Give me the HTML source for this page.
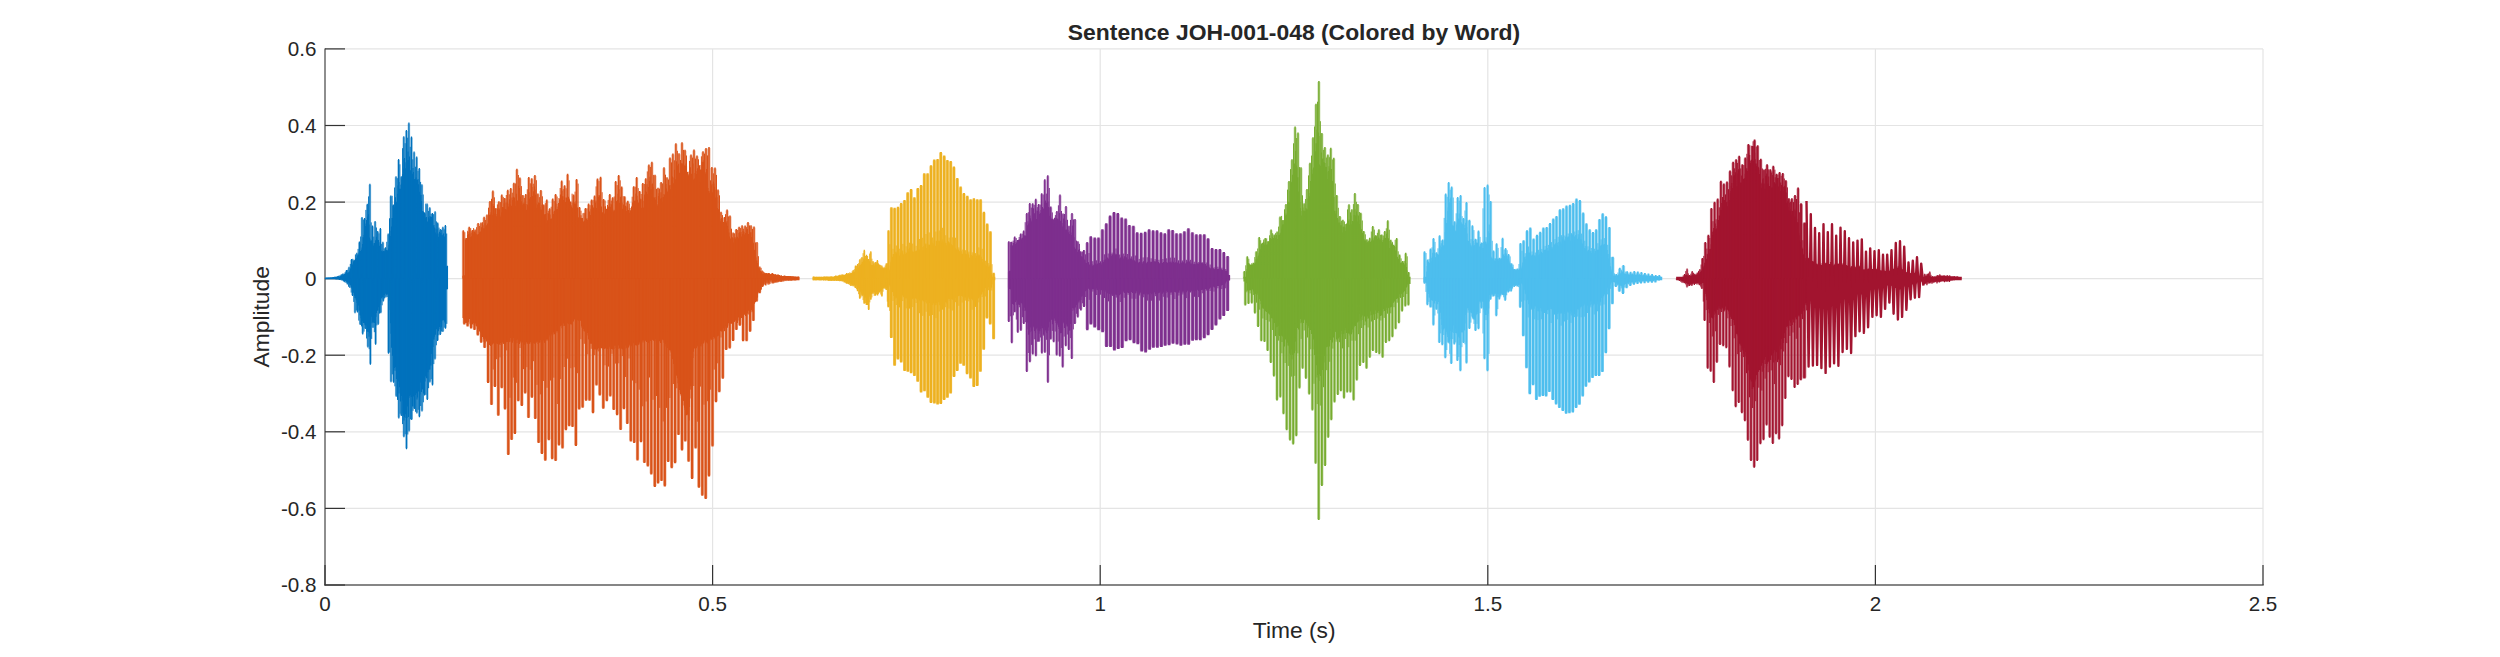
<!DOCTYPE html>
<html><head><meta charset="utf-8"><title>Sentence JOH-001-048 (Colored by Word)</title>
<style>
html,body{margin:0;padding:0;background:#fff;}
body{width:2500px;height:657px;overflow:hidden;}
svg{display:block;}
text{font-family:"Liberation Sans",Arial,Helvetica,sans-serif;fill:#262626;}
.tk{font-size:20.6px;}
.lb{font-size:22.8px;}
.ti{font-size:22.9px;font-weight:bold;}
</style></head><body>
<svg width="2500" height="657" viewBox="0 0 2500 657">
<rect width="2500" height="657" fill="#fff"/>
<g id="grid">
<line x1="712.6" y1="48.9" x2="712.6" y2="585" stroke="#e4e4e4" stroke-width="1.2"/>
<line x1="1100.2" y1="48.9" x2="1100.2" y2="585" stroke="#e4e4e4" stroke-width="1.2"/>
<line x1="1487.8" y1="48.9" x2="1487.8" y2="585" stroke="#e4e4e4" stroke-width="1.2"/>
<line x1="1875.4" y1="48.9" x2="1875.4" y2="585" stroke="#e4e4e4" stroke-width="1.2"/>
<line x1="2263" y1="48.9" x2="2263" y2="585" stroke="#e4e4e4" stroke-width="1.2"/>
<line x1="325" y1="48.9" x2="2263" y2="48.9" stroke="#e4e4e4" stroke-width="1.2"/>
<line x1="325" y1="125.5" x2="2263" y2="125.5" stroke="#e4e4e4" stroke-width="1.2"/>
<line x1="325" y1="202.1" x2="2263" y2="202.1" stroke="#e4e4e4" stroke-width="1.2"/>
<line x1="325" y1="278.7" x2="2263" y2="278.7" stroke="#e4e4e4" stroke-width="1.2"/>
<line x1="325" y1="355.2" x2="2263" y2="355.2" stroke="#e4e4e4" stroke-width="1.2"/>
<line x1="325" y1="431.8" x2="2263" y2="431.8" stroke="#e4e4e4" stroke-width="1.2"/>
<line x1="325" y1="508.4" x2="2263" y2="508.4" stroke="#e4e4e4" stroke-width="1.2"/>
</g>
<g id="axes">
<line x1="325" y1="48.4" x2="325" y2="585.7" stroke="#5e5e5e" stroke-width="1.4"/>
<line x1="324.3" y1="585" x2="2263.7" y2="585" stroke="#5e5e5e" stroke-width="1.4"/>
<line x1="325" y1="585" x2="325" y2="565" stroke="#333" stroke-width="1.2"/>
<line x1="712.6" y1="585" x2="712.6" y2="565" stroke="#333" stroke-width="1.2"/>
<line x1="1100.2" y1="585" x2="1100.2" y2="565" stroke="#333" stroke-width="1.2"/>
<line x1="1487.8" y1="585" x2="1487.8" y2="565" stroke="#333" stroke-width="1.2"/>
<line x1="1875.4" y1="585" x2="1875.4" y2="565" stroke="#333" stroke-width="1.2"/>
<line x1="2263" y1="585" x2="2263" y2="565" stroke="#333" stroke-width="1.2"/>
<line x1="325" y1="48.9" x2="345" y2="48.9" stroke="#333" stroke-width="1.2"/>
<line x1="325" y1="125.5" x2="345" y2="125.5" stroke="#333" stroke-width="1.2"/>
<line x1="325" y1="202.1" x2="345" y2="202.1" stroke="#333" stroke-width="1.2"/>
<line x1="325" y1="278.7" x2="345" y2="278.7" stroke="#333" stroke-width="1.2"/>
<line x1="325" y1="355.2" x2="345" y2="355.2" stroke="#333" stroke-width="1.2"/>
<line x1="325" y1="431.8" x2="345" y2="431.8" stroke="#333" stroke-width="1.2"/>
<line x1="325" y1="508.4" x2="345" y2="508.4" stroke="#333" stroke-width="1.2"/>
<line x1="325" y1="585" x2="345" y2="585" stroke="#333" stroke-width="1.2"/>
</g>
<g id="wave" stroke-linecap="butt">
<path d="M325.5 277.7V279.3M326 277.7V279.3M326.5 277.7V279.3M327 277.7V279.3M327.5 277.7V279.3M328 277.7V279.3M328.5 277.7V279.3M329 277.7V279.3M329.5 277.7V279.3M330 277.7V279.3M330.5 277.6V279.3M331 277.6V279.3M331.5 277.5V279.3M332 277.4V279.3M332.5 277.4V279.3M333 277.4V279.3M333.5 277.4V279.3M334 277.2V279.3M334.5 277.2V279.3M335 277V279.3M335.5 276.9V279.3M336 276.8V279.3M336.5 276.8V279.3M337 276.8V279.3M337.5 276.6V279.3M338 276.5V279.3M338.5 276.6V279.3M339 276.5V279.4M339.5 276.5V279.3M340 276.4V279.4M340.5 276.2V279.5M341 276.1V279.5M341.5 275.8V279.6M342 275.4V279.7M342.5 275.7V279.9M343 275.2V280M343.5 275V280.3M344 274.6V280.7M344.5 273.9V280.9M345 273.7V281.3M345.5 273.4V281.3M346 273.1V281.3M346.5 273.3V281.8M347 273.1V282.2M347.5 273.1V282M348 272.6V282.6M348.5 272.5V282.6M349 272V282.7M349.5 271.5V283.4M350 270.3V284.7M350.5 268.6V285.1M351 268.6V285.8M351.5 267.7V287.5M352 264.8V288.7M352.5 265.9V289.1M353 263.6V290.9M353.5 261.6V292.7M354 260.5V292M354.5 261.7V295.9M355 260.3V297.9M355.5 258.9V297M356 259.9V299.6M356.5 257.7V300.4M357 259.8V303M357.5 255.5V306.5M358 254.5V303.3M358.5 255.4V305.5M359 252.5V310.6M359.5 254V308.2M360 251.1V315.3M360.5 252.8V315.6M361 251.1V318.3M361.5 249.8V314.1M362 247.5V318.6M362.5 244V321.3M363 237.3V320M363.5 238.4V323.1M364 235.1V318.7M364.5 232.7V323.2M365 223.6V325.3M365.5 228.7V319.8M366 226V325.4M366.5 220.1V323.2M367 225.3V331.6M367.5 216.4V325.5M368 222.5V331.9M368.5 214.3V332M369 224.5V336.8M369.5 237.6V333.3M370 239.3V330.8M370.5 243V318.9M371 240.7V315.9M371.5 244.6V316.8M372 240V323.2M372.5 244.9V321.1M373 243.3V322.3M373.5 246.5V319.5M374 245.5V323M374.5 243.1V323.1M375 245.9V319M375.5 240.2V318.3M376 241V316.8M376.5 236.7V313M377 239.2V310.7M377.5 240.1V310.7M378 240.1V310.6M378.5 240.1V305.5M379 242.3V307.3M379.5 246V304.3M380 245.8V304.8M380.5 249.1V302.5M381 251V298.2M381.5 251V297.1M382 250.6V298.5M382.5 251.5V296.8M383 253V297.1M383.5 251V294.3M384 251.2V295.1M384.5 254.7V295M385 250.6V293.2M385.5 252.8V293.5M386 250.1V294.1M386.5 249.9V294.6M387 253.5V295.1M387.5 250.3V292.3M388 252V293.9M388.5 248.6V293.5M389 244.8V292.9M389.5 240.6V300.5M390 236.6V309.9M390.5 236.1V323.2M391 230.7V333.8M391.5 226.5V347.7M392 218V342.4M392.5 217.9V355.7M393 205.7V349.7M393.5 205.2V367.2M394 208.7V365.7M394.5 207.4V367.9M395 202.2V370.7M395.5 197.3V363.6M396 201.4V367.2M396.5 203.4V379.1M397 202.2V369M397.5 193.8V376.4M398 185.4V374.5M398.5 184.7V381.5M399 182.1V393.6M399.5 189.1V387.3M400 188.7V383.2M400.5 192.9V401.4M401 184.8V392.7M401.5 183.5V395.9M402 179.1V390.3M402.5 174.3V400.4M403 176.6V413.6M403.5 168.4V415.6M404 159.2V420.5M404.5 157.9V417.2M405 162.2V410.2M405.5 168.2V414.2M406 168.7V418.1M406.5 164.2V413.1M407 160.2V418M407.5 168.1V402.4M408 151.6V406.4M408.5 173.6V417.1M409 160V398.1M409.5 156.4V396.3M410 170.4V395.1M410.5 172.1V388.5M411 170V396.7M411.5 165.4V397M412 173.8V386.7M412.5 185.3V406.4M413 167.9V406.6M413.5 171.9V392.1M414 179.7V396.4M414.5 179.3V408.6M415 179V385.1M415.5 188.3V394.9M416 177.5V386.6M416.5 182.9V393.3M417 179.9V399.5M417.5 183.7V397.4M418 179V390.7M418.5 184.3V391.5M419 194.6V388.8M419.5 191.7V397.4M420 201.7V394.6M420.5 194.7V382.5M421 194.9V382M421.5 201.1V392M422 212.9V389.7M422.5 210.9V389M423 215.5V381.3M423.5 211.5V393.6M424 211.9V383.8M424.5 212.8V381.8M425 213.3V381.4M425.5 217.6V376.5M426 220.6V374M426.5 217.1V378.1M427 222.8V378.5M427.5 221.6V365.1M428 224.1V372.2M428.5 217.3V369.4M429 222.1V369.8M429.5 218.5V369.4M430 216V369.4M430.5 217.1V360.1M431 226.8V365.5M431.5 216.7V353.3M432 220.8V354.1M432.5 218V355.9M433 225.4V346.9M433.5 228.6V338.8M434 225V339.4M434.5 227.5V336.8M435 228.6V327.8M435.5 232.4V334.7M436 234.2V325.6M436.5 236.4V329.2M437 228.9V326.2M437.5 237.5V326.3M438 233.5V329.2M438.5 236.7V331.3M439 237.5V326.9M439.5 231.8V323.3M440 234.9V329.3M440.5 233V321.7M441 233V321.7M441.5 238.4V327.3M442 235.3V320.4M442.5 235.7V319.1M443 234.8V320.5M443.5 233.4V318.2M444 239.2V320M444.5 236.6V321.4M445 240.5V322.7M445.5 266.9V289.2M446 266.5V289.2M446.5 267.6V289.5M447 266.2V289.5M447.5 265.7V289" stroke="#0072BD" stroke-width="1.1" fill="none"/><path d="M325.8 279V278.5M328.4 278.6V278.5M331 278.3V278.5M333.5 278.1V278.5M336.1 277.8V278.5M338.7 276.7V278.5M341.3 275.2V278.5M343.9 274.6V278.5M346.4 271.1V278.5M349 267.8V278.5M351.5 260V278.5M354.1 260.7V278.5M356.8 253.7V278.5M359.4 242.5V278.5M362 218.1V278.5M364.6 218.9V278.5M367.3 204.7V278.5M369.9 184.7V278.5M372.5 226.5V278.5M375.1 222.1V278.5M377.7 232.1V278.5M380.4 229V278.5M382.9 242.7V278.5M385.5 248.3V278.5M388.2 234.5V278.5M390.8 196.6V278.5M393.3 205.6V278.5M396 177.2V278.5M398.6 160.1V278.5M401.3 177.2V278.5M403.8 137.2V278.5M406.4 131V278.5M408.9 123.4V278.5M411.5 137.6V278.5M414.1 152.4V278.5M416.7 157.6V278.5M419.3 169.1V278.5M421.9 185.2V278.5M424.5 214.2V278.5M427.1 204.5V278.5M429.8 208.3V278.5M432.4 214V278.5M435.1 212.2V278.5M437.7 223.4V278.5M440.3 230V278.5M442.9 227.8V278.5M445.4 226.1V278.5M326.6 278.5V277M329.1 278.5V277.5M331.7 278.5V277.7M334.3 278.5V278M336.8 278.5V278.4M339.4 278.5V279M342.1 278.5V279.8M344.7 278.5V281.3M347.3 278.5V283.4M349.9 278.5V287M352.5 278.5V294.9M355 278.5V312.2M357.5 278.5V311.4M360.2 278.5V324M362.7 278.5V333.5M365.3 278.5V328.1M367.9 278.5V346.6M370.4 278.5V363.7M373 278.5V327M375.6 278.5V343.7M378.2 278.5V323.8M380.8 278.5V312.2M383.3 278.5V300.6M385.9 278.5V296.5M388.5 278.5V352.7M391 278.5V381.2M393.6 278.5V381.8M396.2 278.5V395.8M398.8 278.5V417.4M401.3 278.5V415.1M403.9 278.5V436.3M406.5 278.5V448.3M409.1 278.5V430.5M411.7 278.5V419.1M414.3 278.5V408.1M416.9 278.5V412.4M419.4 278.5V416.2M422 278.5V410.5M424.6 278.5V394.6M427.3 278.5V398.9M429.9 278.5V381.4M432.5 278.5V384.4M435 278.5V358.4M437.6 278.5V339.9M440.3 278.5V333.9M442.9 278.5V331.1M445.5 278.5V327.8" stroke="#0072BD" stroke-width="2.5" stroke-opacity="0.45" fill="none"/><path d="M325.8 278V278.5M328.4 277.6V278.5M331 277.3V278.5M333.5 277.1V278.5M336.1 276.8V278.5M338.7 275.7V278.5M341.3 274.2V278.5M343.9 273.6V278.5M346.4 270.1V278.5M349 266.8V278.5M351.5 259V278.5M354.1 259.7V278.5M356.8 252.7V278.5M359.4 241.5V278.5M362 217.1V278.5M364.6 217.9V278.5M367.3 203.7V278.5M369.9 183.7V278.5M372.5 225.5V278.5M375.1 221.1V278.5M377.7 231.1V278.5M380.4 228V278.5M382.9 241.7V278.5M385.5 247.3V278.5M388.2 233.5V278.5M390.8 195.6V278.5M393.3 204.6V278.5M396 176.2V278.5M398.6 159.1V278.5M401.3 176.2V278.5M403.8 136.2V278.5M406.4 130V278.5M408.9 122.4V278.5M411.5 136.6V278.5M414.1 151.4V278.5M416.7 156.6V278.5M419.3 168.1V278.5M421.9 184.2V278.5M424.5 213.2V278.5M427.1 203.5V278.5M429.8 207.3V278.5M432.4 213V278.5M435.1 211.2V278.5M437.7 222.4V278.5M440.3 229V278.5M442.9 226.8V278.5M445.4 225.1V278.5M326.6 278.5V278M329.1 278.5V278.5M331.7 278.5V278.7M334.3 278.5V279M336.8 278.5V279.4M339.4 278.5V280M342.1 278.5V280.8M344.7 278.5V282.3M347.3 278.5V284.4M349.9 278.5V288M352.5 278.5V295.9M355 278.5V313.2M357.5 278.5V312.4M360.2 278.5V325M362.7 278.5V334.5M365.3 278.5V329.1M367.9 278.5V347.6M370.4 278.5V364.7M373 278.5V328M375.6 278.5V344.7M378.2 278.5V324.8M380.8 278.5V313.2M383.3 278.5V301.6M385.9 278.5V297.5M388.5 278.5V353.7M391 278.5V382.2M393.6 278.5V382.8M396.2 278.5V396.8M398.8 278.5V418.4M401.3 278.5V416.1M403.9 278.5V437.3M406.5 278.5V449.3M409.1 278.5V431.5M411.7 278.5V420.1M414.3 278.5V409.1M416.9 278.5V413.4M419.4 278.5V417.2M422 278.5V411.5M424.6 278.5V395.6M427.3 278.5V399.9M429.9 278.5V382.4M432.5 278.5V385.4M435 278.5V359.4M437.6 278.5V340.9M440.3 278.5V334.9M442.9 278.5V332.1M445.5 278.5V328.8" stroke="#0072BD" stroke-width="1.2" fill="none"/><path d="M327.1 277.8V278.5M329.7 277.4V278.5M332.3 277V278.5M334.8 276.6V278.5M337.4 276.2V278.5M340 275.2V278.5M342.6 273.6V278.5M345.2 272V278.5M347.7 269.8V278.5M350.3 263.9V278.5M352.8 258.8V278.5M355.4 254.5V278.5M358.1 248.9V278.5M360.7 236.5V278.5M363.3 219.7V278.5M365.9 209.9V278.5M368.6 196.4V278.5M371.2 222.4V278.5M373.8 236.6V278.5M376.4 227.5V278.5M379 233.4V278.5M381.7 244V278.5M384.2 248.4V278.5M386.8 241.8V278.5M389.5 218.3V278.5M392.1 195.8V278.5M394.6 187.5V278.5M397.3 178.2V278.5M399.9 164.3V278.5M402.6 148.2V278.5M405.1 143.2V278.5M407.7 137.7V278.5M410.2 146.8V278.5M412.8 159.3V278.5M415.4 166.7V278.5M418 170.8V278.5M420.6 181.9V278.5M423.2 194.5V278.5M425.8 203.6V278.5M428.4 210.9V278.5M431.1 213.7V278.5M433.7 214.2V278.5M436.4 221.4V278.5M439 227.6V278.5M441.6 229.7V278.5M444.2 229.3V278.5M446.7 233.5V278.5M327.9 278.5V278.3M330.4 278.5V278.6M333 278.5V279M335.6 278.5V279.3M338.1 278.5V279.6M340.7 278.5V280.1M343.4 278.5V281.5M346 278.5V283M348.6 278.5V286.7M351.2 278.5V292.6M353.8 278.5V301.9M356.3 278.5V310.4M358.8 278.5V320.6M361.5 278.5V326.4M364 278.5V331.6M366.6 278.5V338.5M369.2 278.5V349.2M371.7 278.5V338.9M374.3 278.5V332.2M376.9 278.5V325.4M379.5 278.5V313.6M382.1 278.5V305.3M384.6 278.5V298.4M387.2 278.5V297M389.8 278.5V352.5M392.3 278.5V374.4M394.9 278.5V386.3M397.5 278.5V399.9M400.1 278.5V413.7M402.6 278.5V424.1M405.2 278.5V434.3M407.8 278.5V434.5M410.4 278.5V419.4M413 278.5V410.8M415.6 278.5V411.8M418.2 278.5V409.8M420.7 278.5V406M423.3 278.5V402.3M425.9 278.5V394.9M428.6 278.5V388.2M431.2 278.5V379.2M433.8 278.5V364.1M436.3 278.5V345.3M438.9 278.5V335.3M441.6 278.5V331.6M444.2 278.5V327.6M446.8 278.5V323.9" stroke="#0072BD" stroke-width="1.0" fill="none"/>
<path d="M463 275.7V318M463.5 275.7V318.3M464 275.6V318.8M464.5 275.3V317.5M465 275.5V322.7M465.5 240V318.9M466 238.4V323M466.5 238.5V321.5M467 239.2V322.8M467.5 235V323.3M468 232V322.2M468.5 237.5V321.8M469 233.9V319M469.5 237.3V319M470 233.4V323.8M470.5 238.9V324.7M471 237V319.7M471.5 236.2V322.2M472 233V324.1M472.5 230.1V323.8M473 233.8V324.8M473.5 237.8V320.5M474 231.6V323.1M474.5 236.7V323.4M475 231.8V322.1M475.5 233.3V323.6M476 235.2V325.8M476.5 234.4V326.2M477 233.9V326.5M477.5 235.1V327M478 236.4V329M478.5 234V326M479 235.3V329M479.5 232.2V331.4M480 234.9V329.7M480.5 231.5V332.3M481 235.2V333M481.5 227.2V336.7M482 233.1V335.3M482.5 230.7V336.9M483 225.2V335.7M483.5 228.2V338.8M484 228.3V341.8M484.5 233.1V337.4M485 223.2V343.2M485.5 226.5V338M486 227V338.7M486.5 225.2V341.6M487 229.8V341M487.5 223.6V342.5M488 225.2V343.2M488.5 218.7V344.6M489 223V345M489.5 214.7V344.9M490 222.6V341M490.5 214.5V346M491 212.2V342.4M491.5 212.8V342.6M492 215.8V343M492.5 214.9V344.6M493 204V342.9M493.5 215.3V343.5M494 206V341.7M494.5 216.1V341.6M495 213.6V341.4M495.5 208.9V343.5M496 218.8V340.8M496.5 216.3V343.1M497 214V344.1M497.5 208.8V341M498 213.5V344.1M498.5 210.1V345.1M499 208.3V341.9M499.5 209.6V343.9M500 216.7V345.1M500.5 217.6V343.1M501 215.5V340.5M501.5 213V345M502 212.1V342.5M502.5 206.9V341.9M503 211.3V342.5M503.5 207.2V343.4M504 203.3V340.8M504.5 214.1V343.9M505 209.1V340.7M505.5 209.9V342.3M506 202.5V342.3M506.5 210.3V338.8M507 209.4V342.1M507.5 202.6V341.9M508 206.6V342.1M508.5 206.9V338.6M509 203.4V342.2M509.5 199.2V339.7M510 206.1V341.8M510.5 204.6V337.7M511 205.8V337.9M511.5 209V341.6M512 197.5V338M512.5 200.1V342.8M513 203.5V340.7M513.5 196.8V338.1M514 201V337.7M514.5 197.4V343.4M515 206.3V342.1M515.5 205.8V341M516 201.4V343.3M516.5 193.7V340M517 203.4V339.3M517.5 200.8V339.6M518 200.2V342.9M518.5 185.8V343M519 195.1V342.3M519.5 188V343.9M520 194V342.7M520.5 196.5V341.4M521 203.6V339.8M521.5 201.3V339.3M522 203.2V342.5M522.5 204.9V340.5M523 209.5V342.6M523.5 203.8V344.8M524 202.6V344.9M524.5 203.7V344.3M525 208.2V341M525.5 205.9V342.7M526 203.9V339.9M526.5 213.2V341.9M527 209.7V343.6M527.5 204.5V343.7M528 208.5V342.4M528.5 206.3V342.2M529 192.2V344M529.5 198.8V340.3M530 198.4V343.5M530.5 197V341.8M531 200.9V341.9M531.5 184.6V339.5M532 186.9V343.2M532.5 200.8V341.2M533 196V342.6M533.5 191.3V343.3M534 197.4V342.8M534.5 186.6V343.7M535 189.4V339.5M535.5 194.4V343.4M536 203.2V342.9M536.5 208.1V340.5M537 207.7V341.7M537.5 204.6V341.8M538 209.3V344M538.5 202.6V340.1M539 209.4V340.8M539.5 203V342.8M540 206.9V342.5M540.5 209.8V339.4M541 209.5V340.1M541.5 212.4V340.5M542 204.9V342.3M542.5 203.6V339.9M543 213.8V339.9M543.5 206.4V339.3M544 215.6V341.2M544.5 214.2V342.8M545 216V343.1M545.5 214V338.3M546 218.6V340.8M546.5 223.1V339.1M547 223.5V339.5M547.5 220.2V338.1M548 213V340.7M548.5 213.9V339.8M549 224.2V336.5M549.5 221V334.6M550 214.6V335.1M550.5 218.7V336.9M551 221.3V333.9M551.5 218.4V334.1M552 220.4V335.6M552.5 219.1V334.4M553 219.1V332.5M553.5 214.1V330.5M554 211.6V334.6M554.5 210.8V333.2M555 216.2V333.9M555.5 211V331.1M556 203.6V329.9M556.5 209.3V331M557 214V332.4M557.5 208.9V330.9M558 206.5V330M558.5 208.1V326.4M559 198V328.4M559.5 206.4V329M560 199.2V324.6M560.5 194.4V326.3M561 202.4V325.4M561.5 191V323.1M562 190.7V328.2M562.5 199.6V327.5M563 196.3V322.7M563.5 200.1V323.5M564 205.7V325.9M564.5 206.8V322.2M565 202.1V325.8M565.5 204.9V323.5M566 197.5V321.9M566.5 197.5V320M567 205.7V323.3M567.5 193.8V323M568 204.8V323.5M568.5 196.8V324M569 198.6V319.4M569.5 199.4V324.9M570 204.7V320.2M570.5 202.7V324.2M571 205V320M571.5 206.6V324.5M572 209.8V322.9M572.5 207.7V321.8M573 202.7V321.9M573.5 203.7V321M574 202.1V318.1M574.5 211.7V319.6M575 203.5V318.2M575.5 213V323.1M576 201.3V322.9M576.5 200.4V318.8M577 210.8V320.3M577.5 207.6V318.9M578 218.4V320.2M578.5 217.6V320.7M579 217.2V320.4M579.5 213.5V317.8M580 218.5V320.2M580.5 217.8V320.5M581 215.2V321.1M581.5 224.1V326.3M582 218.1V327.7M582.5 222.1V325.8M583 213.3V324.4M583.5 223.8V329.1M584 221.6V331.2M584.5 220.6V330.7M585 213.2V331.7M585.5 219.2V334.3M586 223.3V332.9M586.5 218.5V330.5M587 222.9V332.9M587.5 219.9V333.1M588 218.3V335.4M588.5 220.6V339.3M589 221.4V339.4M589.5 211.5V338.1M590 215V339.5M590.5 218.5V343.7M591 208.7V343.5M591.5 213.4V343.4M592 214.1V344M592.5 205.3V342.7M593 211.1V346M593.5 207.6V344.1M594 211.7V349.4M594.5 208.1V344.1M595 205.5V349.3M595.5 202.4V349.6M596 200.5V347.2M596.5 210.4V344.3M597 208V347.7M597.5 202.2V349.6M598 201V348.3M598.5 196.7V348.3M599 194.9V347.2M599.5 199.4V348M600 195.4V346.6M600.5 206.9V347.7M601 212V347.3M601.5 206.4V347.7M602 216.8V348.2M602.5 212.2V346.8M603 217V349.7M603.5 217V347.9M604 214.6V348.8M604.5 213.4V348M605 206.4V348.9M605.5 206.2V344.5M606 210V348.1M606.5 214.4V346.8M607 212V348.3M607.5 205.1V349.1M608 206.6V347.5M608.5 210.4V347.7M609 206.4V348.8M609.5 206.8V346.7M610 203.6V345.5M610.5 214.7V346.6M611 206.7V344.2M611.5 204.2V348.9M612 213V345.1M612.5 207.6V349.4M613 211.2V347.9M613.5 214.1V349.6M614 209.8V349M614.5 215.4V344.2M615 210.5V345.8M615.5 213.9V344.6M616 201.1V348M616.5 208.8V348.4M617 201.2V344.1M617.5 199.9V346.5M618 193.8V349.1M618.5 202.7V345.4M619 189.2V344.4M619.5 202.8V348M620 204.6V349.2M620.5 196.8V344.7M621 203.3V347.5M621.5 202.1V348.7M622 202.7V347.3M622.5 208.7V349.5M623 212.3V349.5M623.5 204.6V344.7M624 208.3V349.2M624.5 208.9V349M625 205.7V344.1M625.5 205.7V345.5M626 211V348.6M626.5 217.1V346.9M627 206.6V347.7M627.5 214V347.4M628 209.9V348M628.5 209.9V347.1M629 219V344.5M629.5 213V344.7M630 208.1V346.2M630.5 216.6V348.4M631 213.3V346.6M631.5 206.4V343.6M632 208.6V345.8M632.5 202.5V345.9M633 207V343.5M633.5 200.4V343.2M634 200.8V343.2M634.5 207.9V344.4M635 200.6V345.1M635.5 204.1V345.3M636 193.5V343.1M636.5 202.1V345.4M637 195.7V341.4M637.5 199.8V346.2M638 209.4V344.9M638.5 202.4V342.7M639 203.6V344.6M639.5 200.1V342.6M640 198.5V340M640.5 200.5V344.3M641 199.3V343.7M641.5 210.1V342.1M642 207.7V339.5M642.5 197.5V340.5M643 207.4V342.6M643.5 208.2V340.5M644 200.8V337.5M644.5 194.6V337.7M645 194.6V339.6M645.5 190.8V340.8M646 191.8V338.3M646.5 202V342.1M647 184.2V339M647.5 198V337.2M648 194.1V338.6M648.5 186.9V342.9M649 191.5V339.6M649.5 181V342.9M650 176.7V340.9M650.5 192.8V339.2M651 189.2V340.7M651.5 191.1V341.8M652 184.2V339.8M652.5 183.6V337.7M653 187V340.1M653.5 200.9V340.8M654 197.3V338.9M654.5 197.4V341.5M655 201.1V338.2M655.5 199.4V338.9M656 197V340.7M656.5 207.6V342.6M657 207.2V342.7M657.5 205.6V340.7M658 203.9V341.6M658.5 195.9V342.5M659 193.2V340.8M659.5 193.8V341.3M660 206.1V338.8M660.5 198.5V342.9M661 192.2V337M661.5 197.8V339.4M662 202V339.3M662.5 201.7V339.6M663 197V340.3M663.5 202.9V337.4M664 194.1V342.7M664.5 200.8V342.9M665 195V343.9M665.5 192.4V344.1M666 184V346.5M666.5 188.4V344.5M667 190.8V345.3M667.5 191.9V347.9M668 194.4V344.7M668.5 190.8V347.2M669 185.4V350.5M669.5 187.4V348.7M670 185.1V349.9M670.5 189.2V350.6M671 191V352.6M671.5 177.8V355.7M672 179.7V356.2M672.5 176.4V358.9M673 183.5V359.2M673.5 183.3V364M674 177.6V364M674.5 169.8V368.6M675 181.1V371M675.5 179.3V371M676 179.4V375.2M676.5 161.2V375.2M677 171.9V375.9M677.5 165.5V378.2M678 169.5V383.2M678.5 163.7V384.9M679 179.9V386.9M679.5 172.8V390M680 181.9V387.6M680.5 164.6V393.9M681 179.7V395.6M681.5 163.2V396M682 164.2V400.8M682.5 174.5V397M683 163.1V399.3M683.5 170.7V400.8M684 164.8V405.5M684.5 171V407.8M685 165.8V410M685.5 177.9V409.4M686 163.6V408.4M686.5 165.8V415.2M687 172.1V413.1M687.5 173.8V414.6M688 171.8V415.2M688.5 175.8V420.5M689 181.6V420.5M689.5 170.6V407M690 183.3V398.4M690.5 167.3V386.3M691 180.1V378.2M691.5 173.7V370.7M692 174.8V364.7M692.5 166.4V360M693 163.4V358M693.5 179.4V351.8M694 180.9V346.3M694.5 178.6V348.4M695 172.9V346.7M695.5 169.1V346.5M696 176.5V343.5M696.5 174.1V348.3M697 170.9V346.8M697.5 168.3V345.8M698 169.5V343.5M698.5 172.1V342.7M699 169.2V341.8M699.5 165.5V343.8M700 165.1V345.9M700.5 178.9V343.7M701 169.4V346.5M701.5 179.7V342.7M702 161.7V344.2M702.5 171.1V345.9M703 161.8V342M703.5 178.7V343.6M704 160V342.6M704.5 175.5V340.6M705 175.6V340.3M705.5 173.4V344.2M706 172.1V338.7M706.5 169.1V342.4M707 183.4V339.2M707.5 183.6V343.4M708 187.9V340.7M708.5 195.3V337.1M709 191.1V339.8M709.5 192.7V338.7M710 194V340.6M710.5 189.9V336.6M711 192.3V338.8M711.5 185.2V339.8M712 183.8V335.2M712.5 192.2V336M713 193.2V336.4M713.5 181.5V337M714 183.6V339.3M714.5 186.7V333.4M715 197.7V337.8M715.5 197.4V338.1M716 189.8V337M716.5 195.3V337.3M717 197.3V336.7M717.5 208.1V331.6M718 209.4V336M718.5 209.3V335.5M719 222.5V332.8M719.5 216.6V332M720 219V331.3M720.5 221.3V330.8M721 225.2V331.1M721.5 218V330.9M722 222.5V331.9M722.5 225.7V328.6M723 217.5V327.6M723.5 224.6V328.3M724 221.9V328.4M724.5 217V330.6M725 224.8V328M725.5 222.1V326.2M726 226.4V325.5M726.5 222.4V325.9M727 220.9V323.4M727.5 225.7V327.8M728 229V321.8M728.5 233.1V323.2M729 232.6V320.9M729.5 236.5V324.2M730 239.5V320.3M730.5 238.5V323.2M731 239.3V324.1M731.5 241.6V323.6M732 241V322.6M732.5 237.3V319.5M733 242.8V322.3M733.5 242.4V323.1M734 238.3V321.9M734.5 240V321.8M735 237.1V319.9M735.5 238.4V319.5M736 238.6V321.1M736.5 237.8V318.4M737 239.2V321.2M737.5 236.8V322.9M738 239.7V317.1M738.5 238.2V317.4M739 232.9V320.5M739.5 232.2V322.1M740 233.8V319.1M740.5 237V316.9M741 231.9V316.8M741.5 237.6V317.9M742 236.5V315.4M742.5 234V320M743 231V316.8M743.5 235.3V317.6M744 231.8V314.9M744.5 235.3V313.9M745 234.6V314.6M745.5 233.1V315.9M746 234.1V314.2M746.5 230.3V315.2M747 228.9V312.9M747.5 229.1V313.6M748 236.6V310.7M748.5 234.1V310.8M749 234V309.5M749.5 229.8V311M750 232.2V312.2M750.5 237.6V309.1M751 232.2V310.3M751.5 236.9V309.8M752 237V312.3M752.5 242.3V307.9M753 242.5V311.3M753.5 243.2V306M754 249.8V303.5M754.5 249.9V303.8M755 253.6V301.4M755.5 257.1V302.2M756 257.6V297.8M756.5 260.7V300.4M757 260.6V297.9M757.5 263V297.2M758 266.8V293.6M758.5 268.5V292.5M759 268.1V292.2M759.5 269.2V292.3M760 270.8V290.4M760.5 271.2V290.6M761 271.1V289.8M761.5 272V284.7M762 273.6V286.3M762.5 273.9V286.7M763 273.9V285.9M763.5 273.7V284.6M764 273.5V282.3M764.5 273.5V281.6M765 274.2V280.2M765.5 273.4V285.3M766 273.8V280.2M766.5 274V280.2M767 274V282.5M767.5 273.7V280.4M768 274.2V280.2M768.5 273.7V282.4M769 273.5V282.9M769.5 273.9V280.2M770 274.4V280.2M770.5 274.3V280.4M771 274V280.2M771.5 274.2V280.2M772 274.4V280.6M772.5 274.7V282.6M773 274.6V282.7M773.5 274.6V280.2M774 275V281.6M774.5 274.9V280.2M775 274.7V282.5M775.5 275.1V281.9M776 274.8V281M776.5 275.2V280.2M777 275.1V282.3M777.5 275.5V280.6M778 275.2V280.2M778.5 275.5V281.7M779 275.4V280.2M779.5 275.8V281.2M780 275.6V280.3M780.5 275.8V280.2M781 275.9V281.3M781.5 276.2V280.9M782 276V280.2M782.5 276.2V280.2M783 276.1V280.2M783.5 275.9V280.2M784 276.1V280.2M784.5 276.2V280.2M785 276.2V280.2M785.5 276.3V280.2M786 276.4V280.5M786.5 276.4V280.2M787 276.3V280.2M787.5 276.3V280.2M788 276.3V280.2M788.5 276.5V280.2M789 276.7V280.2M789.5 276.6V280.2M790 276.5V280.2M790.5 276.5V280.2M791 276.7V280.6M791.5 276.5V280.2M792 276.7V280.2M792.5 276.7V280.2M793 276.6V280.2M793.5 276.8V280.2M794 276.7V280.2M794.5 276.7V280.2M795 276.8V280.2M795.5 276.8V280.2M796 276.8V280.2M796.5 276.8V280.2M797 276.8V280.2M797.5 276.8V280.2M798 276.8V280.2M798.5 276.8V280.2M799 276.8V280.2" stroke="#D95319" stroke-width="1.1" fill="none"/><path d="M463.3 231.3V278.5M466.2 238.9V278.5M469.2 227.7V278.5M472.1 231.5V278.5M475.1 230.6V278.5M478.1 224V278.5M481 223.4V278.5M484.1 217.8V278.5M487 215.4V278.5M490 201.9V278.5M492.9 191.5V278.5M495.9 209V278.5M498.9 202.3V278.5M501.8 195.6V278.5M504.8 198.9V278.5M507.8 190.8V278.5M510.8 188.9V278.5M513.9 183.7V278.5M516.9 169.7V278.5M519.9 178.6V278.5M522.9 196.1V278.5M525.8 194.9V278.5M528.8 178V278.5M531.8 179.3V278.5M534.9 175.9V278.5M537.9 194.6V278.5M540.9 190.9V278.5M543.8 205.4V278.5M546.8 200.4V278.5M549.7 209.2V278.5M552.7 199.5V278.5M555.6 195V278.5M558.7 204V278.5M561.7 181.5V278.5M564.6 186.3V278.5M567.6 174.7V278.5M570.6 202.5V278.5M573.6 195.5V278.5M576.6 180.1V278.5M579.5 208V278.5M582.5 222.2V278.5M585.5 209.1V278.5M588.6 204.6V278.5M591.6 200.5V278.5M594.6 196.5V278.5M597.5 179.4V278.5M600.6 177.7V278.5M603.6 199.9V278.5M606.7 209.8V278.5M609.8 195.1V278.5M612.7 198.2V278.5M615.7 182.1V278.5M618.7 176.1V278.5M621.7 187.4V278.5M624.7 197.3V278.5M627.8 201.7V278.5M630.7 211.2V278.5M633.7 187.3V278.5M636.7 178V278.5M639.7 192V278.5M642.8 183.9V278.5M645.8 179.2V278.5M648.9 165.6V278.5M651.9 162.7V278.5M655 175.8V278.5M658 188.7V278.5M661.1 183V278.5M664 168.3V278.5M667 178.2V278.5M670 158.5V278.5M672.9 154.4V278.5M675.9 144.3V278.5M679 154.2V278.5M682 143.3V278.5M685 150.7V278.5M688 175.2V278.5M691 155.6V278.5M694 150.5V278.5M697 156.5V278.5M699.9 183.8V278.5M703 152.2V278.5M706 149.1V278.5M709 148.1V278.5M711.9 168V278.5M715 168.5V278.5M718 190.5V278.5M721 212.8V278.5M724 227.2V278.5M727.1 210.4V278.5M730 216.6V278.5M733.1 233.5V278.5M736.2 230.1V278.5M739.1 227.7V278.5M742.1 226.3V278.5M745.1 226.5V278.5M748 223V278.5M751 226.2V278.5M754 227.5V278.5" stroke="#D95319" stroke-width="2.9" stroke-opacity="0.45" fill="none"/><path d="M757 243V278.5M759.9 278.5V292.3" stroke="#D95319" stroke-width="2.7" stroke-opacity="0.45" fill="none"/><path d="M759.8 267.4V278.5M762.6 278.5V285.9" stroke="#D95319" stroke-width="2.4" stroke-opacity="0.45" fill="none"/><path d="M762.3 271.5V278.5" stroke="#D95319" stroke-width="2.2" stroke-opacity="0.45" fill="none"/><path d="M764.6 273.5V278.5M764.9 278.5V283.5" stroke="#D95319" stroke-width="2.0" stroke-opacity="0.45" fill="none"/><path d="M766.6 274V278.5M768.6 273.9V278.5M770.6 275.4V278.5M772.5 274V278.5M774.5 275.2V278.5M776.5 275.7V278.5M778.5 275.6V278.5M780.5 276.7V278.5M782.5 277.2V278.5M784.5 276.5V278.5M786.5 277V278.5M788.5 277.1V278.5M790.4 277V278.5M792.5 277.3V278.5M794.4 277.5V278.5M796.4 277.7V278.5M798.4 277.6V278.5M767 278.5V282.7M769 278.5V283.5M771 278.5V281.5M773.1 278.5V282.4M775.1 278.5V281.5M777 278.5V281.3M779.1 278.5V280.5M781.1 278.5V281M783.1 278.5V280.5M785 278.5V279.8M787.1 278.5V279.5M789 278.5V279.7M791.1 278.5V279.8M793.1 278.5V279.3M795.1 278.5V279.5M797.1 278.5V279.1" stroke="#D95319" stroke-width="1.9" stroke-opacity="0.45" fill="none"/><path d="M464.3 278.5V323.5M467.6 278.5V325.4M471.1 278.5V327.4M474.5 278.5V329M477.8 278.5V334.4M481.2 278.5V341.7M484.6 278.5V347.1M488.1 278.5V382M491.5 278.5V404M494.9 278.5V385.9M498.3 278.5V414.8M501.7 278.5V387.2M505 278.5V408.6M508.3 278.5V453.9M511.6 278.5V439M514.9 278.5V432.9M518.3 278.5V400.3M521.8 278.5V405M525.2 278.5V392.6M528.5 278.5V416.9M531.9 278.5V396.7M535.3 278.5V418.1M538.6 278.5V441.9M541.9 278.5V453.1M545.3 278.5V459.8M548.8 278.5V439.2M552.2 278.5V458.3M555.6 278.5V460.1M559 278.5V444.6M562.5 278.5V447.6M565.9 278.5V429.3M569.2 278.5V425.3M572.5 278.5V425.9M575.9 278.5V444.9M579.2 278.5V408.6M582.6 278.5V406.8M586.1 278.5V399.8M589.5 278.5V399.8M593 278.5V412.2M596.5 278.5V384.6M599.8 278.5V394.6M603.3 278.5V407.7M606.8 278.5V400.3M610.3 278.5V395.6M613.7 278.5V409.1M617.1 278.5V414.2M620.6 278.5V429.1M623.9 278.5V408.3M627.3 278.5V423.1M630.8 278.5V440.5M634.2 278.5V441.9M637.5 278.5V459.5M641 278.5V441.2M644.4 278.5V462M647.8 278.5V465.6M651.3 278.5V473.5M654.8 278.5V486.1M658.1 278.5V482.6M661.5 278.5V480M664.8 278.5V485.6M668.2 278.5V461M671.7 278.5V467.3M675.1 278.5V462.2M678.5 278.5V434.1M682 278.5V449.4M685.3 278.5V440.4M688.6 278.5V460.8M692.1 278.5V477.9M695.6 278.5V447.6M698.9 278.5V486.8M702.3 278.5V494.7M705.7 278.5V498M709 278.5V475.4M712.5 278.5V445.4M716 278.5V401.3M719.3 278.5V391.2M722.8 278.5V377.8M726.2 278.5V349.1M729.7 278.5V347.4M733.1 278.5V340.1M736.4 278.5V329M739.8 278.5V324.8M743.1 278.5V340.2M746.6 278.5V340.2M750.1 278.5V330.8M753.4 278.5V320.1" stroke="#D95319" stroke-width="3.3" stroke-opacity="0.45" fill="none"/><path d="M756.7 278.5V300.6" stroke="#D95319" stroke-width="3.2" stroke-opacity="0.45" fill="none"/><path d="M463.3 230.3V278.5M466.2 237.9V278.5M469.2 226.7V278.5M472.1 230.5V278.5M475.1 229.6V278.5M478.1 223V278.5M481 222.4V278.5M484.1 216.8V278.5M487 214.4V278.5M490 200.9V278.5M492.9 190.5V278.5M495.9 208V278.5M498.9 201.3V278.5M501.8 194.6V278.5M504.8 197.9V278.5M507.8 189.8V278.5M510.8 187.9V278.5M513.9 182.7V278.5M516.9 168.7V278.5M519.9 177.6V278.5M522.9 195.1V278.5M525.8 193.9V278.5M528.8 177V278.5M531.8 178.3V278.5M534.9 174.9V278.5M537.9 193.6V278.5M540.9 189.9V278.5M543.8 204.4V278.5M546.8 199.4V278.5M549.7 208.2V278.5M552.7 198.5V278.5M555.6 194V278.5M558.7 203V278.5M561.7 180.5V278.5M564.6 185.3V278.5M567.6 173.7V278.5M570.6 201.5V278.5M573.6 194.5V278.5M576.6 179.1V278.5M579.5 207V278.5M582.5 221.2V278.5M585.5 208.1V278.5M588.6 203.6V278.5M591.6 199.5V278.5M594.6 195.5V278.5M597.5 178.4V278.5M600.6 176.7V278.5M603.6 198.9V278.5M606.7 208.8V278.5M609.8 194.1V278.5M612.7 197.2V278.5M615.7 181.1V278.5M618.7 175.1V278.5M621.7 186.4V278.5M624.7 196.3V278.5M627.8 200.7V278.5M630.7 210.2V278.5M633.7 186.3V278.5M636.7 177V278.5M639.7 191V278.5M642.8 182.9V278.5M645.8 178.2V278.5M648.9 164.6V278.5M651.9 161.7V278.5M655 174.8V278.5M658 187.7V278.5M661.1 182V278.5M664 167.3V278.5M667 177.2V278.5M670 157.5V278.5M672.9 153.4V278.5M675.9 143.3V278.5M679 153.2V278.5M682 142.3V278.5M685 149.7V278.5M688 174.2V278.5M691 154.6V278.5M694 149.5V278.5M697 155.5V278.5M699.9 182.8V278.5M703 151.2V278.5M706 148.1V278.5M709 147.1V278.5M711.9 167V278.5M715 167.5V278.5M718 189.5V278.5M721 211.8V278.5M724 226.2V278.5M727.1 209.4V278.5M730 215.6V278.5M733.1 232.5V278.5M736.2 229.1V278.5M739.1 226.7V278.5M742.1 225.3V278.5M745.1 225.5V278.5M748 222V278.5M751 225.2V278.5M754 226.5V278.5" stroke="#D95319" stroke-width="1.5" fill="none"/><path d="M464.8 232.2V278.5M467.7 230.8V278.5M470.7 228.2V278.5M473.6 228.1V278.5M476.6 227.2V278.5M479.6 225.9V278.5M482.5 222.2V278.5M485.6 219.9V278.5M488.5 207.7V278.5M491.5 198.8V278.5M494.4 197.3V278.5M497.4 204.4V278.5M500.4 202.1V278.5M503.3 197.1V278.5M506.3 195V278.5M509.3 194.3V278.5M512.3 192.7V278.5M515.4 183.4V278.5M518.4 175V278.5M521.4 186.1V278.5M524.4 197.9V278.5M527.3 189.3V278.5M530.3 183.3V278.5M533.3 183.7V278.5M536.4 180.2V278.5M539.4 197.1V278.5M542.4 196.3V278.5M545.3 203.1V278.5M548.3 210.9V278.5M551.2 206.7V278.5M554.2 201.1V278.5M557.1 196.5V278.5M560.2 188V278.5M563.2 189.1V278.5M566.1 188.3V278.5M569.1 180.4V278.5M572.1 193.7V278.5M575.1 191.6V278.5M578.1 183.6V278.5M581 210.7V278.5M584 212.8V278.5M587 208.3V278.5M590.1 205.2V278.5M593.1 199.9V278.5M596.1 186.4V278.5M599 181.1V278.5M602.1 192.2V278.5M605.1 200.5V278.5M608.2 199.9V278.5M611.3 200.6V278.5M614.2 196.5V278.5M617.2 185.1V278.5M620.2 180.3V278.5M623.2 196.1V278.5M626.2 202.7V278.5M629.3 203.6V278.5M632.2 196.7V278.5M635.2 186.7V278.5M638.2 188.1V278.5M641.2 194V278.5M644.3 184V278.5M647.3 171.4V278.5M650.4 167V278.5M653.4 174.9V278.5M656.5 188.9V278.5M659.5 188.6V278.5M662.6 183.5V278.5M665.5 174.7V278.5M668.5 179.5V278.5M671.5 162.4V278.5M674.4 160.3V278.5M677.4 150.8V278.5M680.5 160V278.5M683.5 149.9V278.5M686.5 155.5V278.5M689.5 160.9V278.5M692.5 157.6V278.5M695.5 158.6V278.5M698.5 159.3V278.5M701.4 156.3V278.5M704.5 153.6V278.5M707.5 155.4V278.5M710.5 180.3V278.5M713.4 173.3V278.5M716.5 174.9V278.5M719.5 195.3V278.5M722.5 215.1V278.5M725.5 214.2V278.5M728.6 216.4V278.5M731.5 228.7V278.5M734.6 233.3V278.5M737.7 229.9V278.5M740.6 228.1V278.5M743.6 228.7V278.5M746.6 227.2V278.5M749.5 225.4V278.5M752.5 229V278.5M755.5 242.4V278.5M758.4 256.2V278.5M761.1 267.8V278.5M763.4 271.6V278.5M765.7 273V278.5M767.6 273.3V278.5M769.6 273.2V278.5M771.6 273.4V278.5M773.5 273.8V278.5M775.5 274.2V278.5M777.5 274.5V278.5M779.5 275V278.5M781.5 275.3V278.5M783.5 275.8V278.5M785.5 275.8V278.5M787.5 276V278.5M789.5 276.1V278.5M791.4 276.2V278.5M793.5 276.4V278.5M795.4 276.5V278.5M797.4 276.7V278.5M466 278.5V308.6M469.3 278.5V313.4M472.8 278.5V316.6M476.2 278.5V309.2M479.5 278.5V312M482.9 278.5V323.1M486.3 278.5V336.4M489.8 278.5V343.6M493.2 278.5V369.5M496.6 278.5V359.2M500 278.5V357.4M503.4 278.5V343.9M506.7 278.5V350.4M510 278.5V397.8M513.3 278.5V377.6M516.6 278.5V382.8M520 278.5V348M523.5 278.5V369.1M526.9 278.5V367.2M530.2 278.5V369.8M533.6 278.5V361.2M537 278.5V384.9M540.3 278.5V394.4M543.6 278.5V381M547 278.5V387.8M550.5 278.5V380.5M553.9 278.5V377.7M557.3 278.5V404M560.7 278.5V379.1M564.2 278.5V367M567.6 278.5V358.7M570.9 278.5V368.2M574.2 278.5V367.3M577.6 278.5V373.2M580.9 278.5V339.2M584.3 278.5V343.8M587.8 278.5V354.3M591.2 278.5V348.8M594.7 278.5V355.1M598.2 278.5V351.4M601.5 278.5V348.2M605 278.5V365.3M608.5 278.5V366.6M612 278.5V353.8M615.4 278.5V363.6M618.8 278.5V363.3M622.3 278.5V356.1M625.6 278.5V377M629 278.5V358.5M632.5 278.5V380.5M635.9 278.5V383.2M639.2 278.5V389.7M642.7 278.5V406.3M646.1 278.5V401.5M649.5 278.5V377.5M653 278.5V399.8M656.5 278.5V396M659.8 278.5V407.9M663.2 278.5V421.5M666.5 278.5V407.9M669.9 278.5V398M673.4 278.5V384M676.8 278.5V388.3M680.2 278.5V392.6M683.7 278.5V400.8M687 278.5V380.3M690.3 278.5V389.6M693.8 278.5V386M697.3 278.5V421.7M700.6 278.5V386.6M704 278.5V404.7M707.4 278.5V401.2M710.7 278.5V389.7M714.2 278.5V369.6M717.7 278.5V363.3M721 278.5V337.5M724.5 278.5V331.2M727.9 278.5V325.7M731.4 278.5V314.9M734.8 278.5V313.5M738.1 278.5V309.2M741.5 278.5V310.9M744.8 278.5V311.8M748.3 278.5V314.5M751.8 278.5V308.7M755.1 278.5V298.2M758.4 278.5V292M761.3 278.5V289.3M763.8 278.5V285.3M766 278.5V285.5M768 278.5V284.7M770 278.5V284M772 278.5V283.5M774.1 278.5V283.2M776.1 278.5V282.7M778 278.5V282.4M780.1 278.5V282M782.1 278.5V281.6M784.1 278.5V281.3M786 278.5V281.1M788.1 278.5V281M790 278.5V280.7M792.1 278.5V280.6M794.1 278.5V280.4M796.1 278.5V280.3M798.1 278.5V280.1" stroke="#D95319" stroke-width="1.0" fill="none"/><path d="M757 242V278.5M764.9 278.5V284.5" stroke="#D95319" stroke-width="1.4" fill="none"/><path d="M759.8 266.4V278.5M767 278.5V283.7M769 278.5V284.5M771 278.5V282.5M773.1 278.5V283.4M775.1 278.5V282.5M777 278.5V282.3M779.1 278.5V281.5M781.1 278.5V282M783.1 278.5V281.5M785 278.5V280.8M787.1 278.5V280.5M789 278.5V280.7M791.1 278.5V280.8M793.1 278.5V280.3M795.1 278.5V280.5M797.1 278.5V280.1" stroke="#D95319" stroke-width="1.3" fill="none"/><path d="M762.3 270.5V278.5M764.6 272.5V278.5M766.6 273V278.5M768.6 272.9V278.5M770.6 274.4V278.5M772.5 273V278.5M774.5 274.2V278.5M776.5 274.7V278.5M778.5 274.6V278.5M780.5 275.7V278.5M782.5 276.2V278.5M784.5 275.5V278.5M786.5 276V278.5M788.5 276.1V278.5M790.4 276V278.5M792.5 276.3V278.5M794.4 276.5V278.5M796.4 276.7V278.5M798.4 276.6V278.5" stroke="#D95319" stroke-width="1.1" fill="none"/><path d="M464.3 278.5V324.5M467.6 278.5V326.4M471.1 278.5V328.4M474.5 278.5V330M477.8 278.5V335.4M481.2 278.5V342.7M484.6 278.5V348.1M488.1 278.5V383M491.5 278.5V405M494.9 278.5V386.9M498.3 278.5V415.8M501.7 278.5V388.2M505 278.5V409.6M508.3 278.5V454.9M511.6 278.5V440M514.9 278.5V433.9M518.3 278.5V401.3M521.8 278.5V406M525.2 278.5V393.6M528.5 278.5V417.9M531.9 278.5V397.7M535.3 278.5V419.1M538.6 278.5V442.9M541.9 278.5V454.1M545.3 278.5V460.8M548.8 278.5V440.2M552.2 278.5V459.3M555.6 278.5V461.1M559 278.5V445.6M562.5 278.5V448.6M565.9 278.5V430.3M569.2 278.5V426.3M572.5 278.5V426.9M575.9 278.5V445.9M579.2 278.5V409.6M582.6 278.5V407.8M586.1 278.5V400.8M589.5 278.5V400.8M593 278.5V413.2M596.5 278.5V385.6M599.8 278.5V395.6M603.3 278.5V408.7M606.8 278.5V401.3M610.3 278.5V396.6M613.7 278.5V410.1M617.1 278.5V415.2M620.6 278.5V430.1M623.9 278.5V409.3M627.3 278.5V424.1M630.8 278.5V441.5M634.2 278.5V442.9M637.5 278.5V460.5M641 278.5V442.2M644.4 278.5V463M647.8 278.5V466.6M651.3 278.5V474.5M654.8 278.5V487.1M658.1 278.5V483.6M661.5 278.5V481M664.8 278.5V486.6M668.2 278.5V462M671.7 278.5V468.3M675.1 278.5V463.2M678.5 278.5V435.1M682 278.5V450.4M685.3 278.5V441.4M688.6 278.5V461.8M692.1 278.5V478.9M695.6 278.5V448.6M698.9 278.5V487.8M702.3 278.5V495.7M705.7 278.5V499M709 278.5V476.4M712.5 278.5V446.4M716 278.5V402.3M719.3 278.5V392.2M722.8 278.5V378.8M726.2 278.5V350.1M729.7 278.5V348.4M733.1 278.5V341.1M736.4 278.5V330M739.8 278.5V325.8M743.1 278.5V341.2M746.6 278.5V341.2M750.1 278.5V331.8M753.4 278.5V321.1" stroke="#D95319" stroke-width="2.2" fill="none"/><path d="M756.7 278.5V301.6" stroke="#D95319" stroke-width="2.1" fill="none"/><path d="M759.9 278.5V293.3" stroke="#D95319" stroke-width="1.8" fill="none"/><path d="M762.6 278.5V286.9" stroke="#D95319" stroke-width="1.6" fill="none"/>
<path d="M813.2 276.8V280.2M813.7 276.8V280.2M814.2 276.8V280.2M814.7 276.8V280.2M815.2 276.8V280.2M815.7 276.8V280.2M816.2 276.8V280.2M816.7 276.8V280.2M817.2 276.8V280.2M817.7 276.8V280.2M818.2 276.8V280.2M818.7 276.8V280.2M819.2 276.8V280.2M819.7 276.8V280.2M820.2 276.8V280.2M820.7 276.8V280.2M821.2 276.8V280.2M821.7 276.8V280.2M822.2 276.8V280.2M822.7 276.8V280.2M823.2 276.8V280.3M823.7 276.8V280.2M824.2 276.8V280.2M824.7 276.8V280.3M825.2 276.8V280.3M825.7 276.8V280.2M826.2 276.8V280.3M826.7 276.8V280.2M827.2 276.8V280.2M827.7 276.8V280.3M828.2 276.8V280.3M828.7 276.8V280.2M829.2 276.8V280.5M829.7 276.7V280.5M830.2 276.7V280.5M830.7 276.7V280.2M831.2 276.8V280.4M831.7 276.8V280.6M832.2 276.7V280.3M832.7 276.8V280.6M833.2 276.8V280.5M833.7 276.7V280.6M834.2 276.8V280.6M834.7 276.5V280.5M835.2 276.6V280.6M835.7 276.4V280.6M836.2 276.2V280.7M836.7 276.4V280.7M837.2 276.2V280.5M837.7 276.3V280.8M838.2 276.2V280.4M838.7 275.8V280.8M839.2 276.1V280.6M839.7 275.6V280.5M840.2 275.6V280.6M840.7 275.9V280.9M841.2 275.8V280.6M841.7 275.5V280.7M842.2 275.5V280.6M842.7 275.1V280.7M843.2 274.9V280.7M843.7 275.3V280.8M844.2 275.2V281M844.7 275.1V281.1M845.2 275.1V280.9M845.7 274.9V281.6M846.2 275V281.5M846.7 274.4V282M847.2 274.2V281.9M847.7 274.6V282.6M848.2 274.5V282.5M848.7 274.5V283M849.2 273.9V283.3M849.7 274.1V282.9M850.2 273.5V283.3M850.7 273.6V283.7M851.2 273.1V284.1M851.7 273.4V284.6M852.2 273.2V284.8M852.7 272.3V284.9M853.2 272.7V284.7M853.7 271.9V284.3M854.2 271.8V285.2M854.7 272.1V284.9M855.2 272.4V284.6M855.7 270.7V285M856.2 270.1V285.1M856.7 269.1V285.6M857.2 269.9V286.3M857.7 269.4V285.7M858.2 267.6V288.1M858.7 267.7V288.4M859.2 265.6V288.9M859.7 267V290.2M860.2 265.1V291.8M860.7 265.1V291.2M861.2 263.8V293.6M861.7 264.6V292.7M862.2 262V296.2M862.7 262.9V294.6M863.2 260.7V294.7M863.7 258.4V294.8M864.2 260V296.2M864.7 258.8V298.2M865.2 258.5V296.1M865.7 260.9V297.2M866.2 261.5V300M866.7 261.2V299.4M867.2 259.8V301.1M867.7 259.3V297.9M868.2 260.1V296M868.7 259.1V296.8M869.2 261.1V296.8M869.7 262.5V294.4M870.2 261.8V293.3M870.7 264.6V293M871.2 265V293.9M871.7 265V292.4M872.2 265.9V293.4M872.7 264.9V291.9M873.2 265.2V291.4M873.7 263.8V291.6M874.2 265.5V292M874.7 265.4V292.4M875.2 263.6V292.4M875.7 264.4V292.5M876.2 264.2V291.3M876.7 264.5V292.2M877.2 266.8V292.6M877.7 266.7V292.7M878.2 266.2V291M878.7 266.5V291.2M879.2 267.5V291.4M879.7 268.5V292.6M880.2 267.4V290.3M880.7 268.4V290.9M881.2 267.8V289M881.7 268.4V290M882.2 267.9V288.5M882.7 268.3V288.8M883.2 267.9V288.2M883.7 269.1V287.7M884.2 268.8V287.2M884.7 267.6V287M885.2 268V287.8M885.7 268.5V287M886.2 268V287.7M886.7 267.7V287.9M887.2 268.4V286.7M887.7 268.4V288.7M888.2 270.1V287.3M888.7 270.6V286.6M889.2 272.4V285.2M889.7 269.6V284.4M890.2 265.6V286.7M890.7 262.3V287.1M891.2 260.4V289.2M891.7 257.9V289.7M892.2 256.8V292.1M892.7 257.4V291.5M893.2 253.9V292.3M893.7 254V296M894.2 254.6V295.3M894.7 253.8V296.8M895.2 253.7V294.9M895.7 251.7V298.4M896.2 254V298.2M896.7 253.2V297.3M897.2 251.7V297.5M897.7 251.6V296.2M898.2 252.5V296.4M898.7 254.9V296.8M899.2 255.8V295.7M899.7 255.8V296.1M900.2 252.4V297.1M900.7 254.1V295.8M901.2 253.2V295.1M901.7 252.5V295.5M902.2 254.3V295.6M902.7 250.5V295M903.2 253.7V297.2M903.7 254.7V296.5M904.2 254.7V295.1M904.7 251.6V297.6M905.2 254.8V295.7M905.7 254V298.5M906.2 252.6V296.4M906.7 254.2V298.2M907.2 253.1V299.6M907.7 249.1V297.4M908.2 249.2V298.1M908.7 251.8V299.6M909.2 251.6V299.8M909.7 248.1V297M910.2 247.3V296.9M910.7 251V297.5M911.2 249.5V299.8M911.7 249.9V298.4M912.2 251.5V297.1M912.7 251.2V299.3M913.2 252V297.4M913.7 251.8V298.1M914.2 254.3V299.7M914.7 252.9V298.7M915.2 251.7V298.4M915.7 250.8V298.2M916.2 254.5V297.4M916.7 250.5V299.4M917.2 253.8V298.1M917.7 249.2V298.6M918.2 251.4V299.6M918.7 249.6V297.8M919.2 250V300.4M919.7 249.4V300M920.2 252.1V301.6M920.7 251.2V298.7M921.2 252V301M921.7 251.8V299.7M922.2 246.9V299.9M922.7 250.3V300.6M923.2 251.3V301.3M923.7 246.3V300.8M924.2 246.3V302.1M924.7 244.8V300M925.2 245.4V302.2M925.7 243.4V300.1M926.2 248.1V300.3M926.7 248.7V303.4M927.2 243.8V303.4M927.7 246.6V299.1M928.2 246.6V299.3M928.7 244.4V300.3M929.2 245.1V303M929.7 247.7V301.8M930.2 244.2V303M930.7 247.3V301M931.2 247.1V304.6M931.7 247.5V301.2M932.2 242.7V304.3M932.7 245.4V304.9M933.2 247.3V303.8M933.7 243.6V303.1M934.2 240.6V302.5M934.7 246.5V302.9M935.2 245.8V301.9M935.7 246.1V305.2M936.2 240.4V303.2M936.7 241.2V301.5M937.2 244.4V304.9M937.7 244.8V301.5M938.2 245.7V301.1M938.7 240.4V302.3M939.2 241.2V302.1M939.7 244.4V305.2M940.2 240.6V303.9M940.7 242.8V302.9M941.2 245.7V303.3M941.7 241.8V301.4M942.2 239.3V304M942.7 242.1V303.6M943.2 241.5V302.8M943.7 243.1V304.7M944.2 243.9V301.5M944.7 240.5V302.2M945.2 242.6V302.4M945.7 242.9V302M946.2 245.8V302M946.7 245.3V303.5M947.2 243.1V301.8M947.7 240.9V300.6M948.2 241.2V298.7M948.7 244.1V298.3M949.2 242.3V299M949.7 247.3V299.1M950.2 243.5V300.9M950.7 246.3V297.6M951.2 244V299.1M951.7 247.7V298.9M952.2 244.9V299.8M952.7 246.2V299.4M953.2 249.7V298.8M953.7 249.7V295.5M954.2 250.7V298.2M954.7 247.4V297.4M955.2 248V298.3M955.7 249.8V295.6M956.2 249.5V297.4M956.7 252.5V295.4M957.2 248.4V295M957.7 249.7V295.4M958.2 252.7V296.3M958.7 249.6V294.8M959.2 250.9V296.1M959.7 251.4V294.1M960.2 252.3V295M960.7 255.5V294.8M961.2 251.2V295.9M961.7 254.6V295.9M962.2 254V294.5M962.7 254.3V296.7M963.2 252.4V295.1M963.7 254.8V296.1M964.2 255.1V296.6M964.7 252.5V297.6M965.2 253.7V297.3M965.7 253.8V295.8M966.2 254.2V298.3M966.7 256.1V296.1M967.2 253.9V297.2M967.7 254.8V296.3M968.2 253.6V296.8M968.7 255V297.8M969.2 257.7V299M969.7 257.5V299.2M970.2 257.6V299.9M970.7 256.8V297.8M971.2 257.7V296.5M971.7 255.1V298.9M972.2 256V299.1M972.7 256.3V299.9M973.2 254V300.7M973.7 256.3V299.9M974.2 255V299.7M974.7 253.9V299.2M975.2 258.1V297.7M975.7 258.1V298.7M976.2 255.6V297.1M976.7 257.5V297.2M977.2 256.1V300.1M977.7 256.8V298.8M978.2 254.4V298.4M978.7 256V298.1M979.2 257V297.3M979.7 254.8V295.8M980.2 254.6V294.8M980.7 257V293.2M981.2 256.7V294.7M981.7 259.4V294M982.2 259.1V292.4M982.7 262.3V291.7M983.2 263V290.2M983.7 263.7V290.2M984.2 262.6V291M984.7 263.3V288.5M985.2 264.5V288.1M985.7 265.7V287.9M986.2 266.1V287.4M986.7 266.6V287M987.2 266V286.2M987.7 265.9V287.5M988.2 267.1V286.3M988.7 267.4V286.9M989.2 265.3V286.8M989.7 266.6V287.3M990.2 268.5V286.3M990.7 270.7V286.3M991.2 272.7V287.8M991.7 274.8V287.6M992.2 276.8V284.5M992.7 276.8V280.2M993.2 276.8V280.2M993.7 276.8V280.2M994.2 276.8V280.2M994.7 276.8V280.3" stroke="#EDB120" stroke-width="1.1" fill="none"/><path d="M813.5 277.6V278.5M815.7 277.9V278.5M818 278V278.5M820.1 278.1V278.5M822.4 277.9V278.5M824.6 277.5V278.5M826.8 277.6V278.5M828.9 277.8V278.5M831.1 277.3V278.5M833.3 277.7V278.5M835.6 276.5V278.5M837.8 276.8V278.5M839.9 275.7V278.5M842.1 275.3V278.5M844.3 275.7V278.5M846.6 274V278.5M848.8 273.9V278.5M851 273.9V278.5M853.2 271.1V278.5M855.5 266.4V278.5M857.6 265.1V278.5M859.8 260.2V278.5M862 258.1V278.5M864.3 250.7V278.5M866.5 255.8V278.5M868.6 260.7V278.5M870.8 252.3V278.5M873 262.1V278.5M875.3 263.1V278.5M877.4 261.1V278.5M879.6 265.4V278.5M881.8 266.4V278.5M884.1 268.6V278.5M886.3 264.2V278.5M813.5 278.5V279.3M815.7 278.5V279.2M817.9 278.5V279.1M820.1 278.5V279.2M822.3 278.5V279.1M824.5 278.5V279.2M826.7 278.5V279.2M828.9 278.5V279.9M831.1 278.5V279.9M833.4 278.5V279.7M835.5 278.5V279.5M837.7 278.5V279.6M839.9 278.5V280.3M842.2 278.5V280.5M844.3 278.5V281.5M846.5 278.5V282.7M848.7 278.5V283.3M850.9 278.5V284.9M853.1 278.5V285.2M855.3 278.5V287.1M857.6 278.5V290.3M859.8 278.5V297.8M862 278.5V294.4M864.2 278.5V302.7M866.4 278.5V304M868.7 278.5V309M870.8 278.5V298.7M873.1 278.5V292.7M875.3 278.5V294.8M877.5 278.5V294.5M879.7 278.5V291.2M881.9 278.5V295.4M884 278.5V287.6M886.2 278.5V289.1" stroke="#EDB120" stroke-width="2.1" stroke-opacity="0.5" fill="none"/><path d="M888.5 231.2V278.5" stroke="#EDB120" stroke-width="2.8" stroke-opacity="0.5" fill="none"/><path d="M891.4 208.2V278.5M894.6 208.7V278.5M898 207.8V278.5M901.2 203.9V278.5M904.5 201V278.5M907.7 193.3V278.5M911.1 190.1V278.5M914.4 198.3V278.5M917.8 189V278.5M921.1 186V278.5M924.3 174.3V278.5M927.6 174.3V278.5M931 166.3V278.5M934.3 160.5V278.5M937.6 159.9V278.5M940.8 153V278.5M944.2 156.6V278.5M947.4 160.9V278.5M950.7 162V278.5M953.9 167.4V278.5M957.3 179V278.5M960.6 187.5V278.5M963.9 193.9V278.5M967.3 196.7V278.5M970.6 200.3V278.5M973.9 199.2V278.5M977.3 200.3V278.5M980.6 200.3V278.5M983.9 212.7V278.5M987.2 224.4V278.5M990.4 232.3V278.5M993.6 273.8V278.5M891.3 278.5V337.1M894.6 278.5V364.7M897.9 278.5V358.5M901.2 278.5V361.6M904.6 278.5V370.1M907.8 278.5V370.7M911.1 278.5V372.2M914.4 278.5V375M917.7 278.5V380.8M921.1 278.5V391.5M924.5 278.5V390.3M927.8 278.5V396.7M931 278.5V402.1M934.4 278.5V402.5M937.6 278.5V403.6M940.8 278.5V403.1M944.1 278.5V399M947.4 278.5V396.7M950.6 278.5V392.5M954 278.5V375.9M957.2 278.5V370.1M960.5 278.5V362.7M963.7 278.5V364.7M967.1 278.5V373.3M970.5 278.5V377.6M973.8 278.5V386M977.2 278.5V385M980.4 278.5V370.8M983.7 278.5V348.8M986.9 278.5V317.6M990.2 278.5V323.6M993.6 278.5V338.2" stroke="#EDB120" stroke-width="3.2" stroke-opacity="0.5" fill="none"/><path d="M888.4 278.5V306.3" stroke="#EDB120" stroke-width="2.7" stroke-opacity="0.5" fill="none"/><path d="M813.5 276.6V278.5M815.7 276.9V278.5M818 277V278.5M820.1 277.1V278.5M822.4 276.9V278.5M824.6 276.5V278.5M826.8 276.6V278.5M828.9 276.8V278.5M831.1 276.3V278.5M833.3 276.7V278.5M835.6 275.5V278.5M837.8 275.8V278.5M839.9 274.7V278.5M842.1 274.3V278.5M844.3 274.7V278.5M846.6 273V278.5M848.8 272.9V278.5M851 272.9V278.5M853.2 270.1V278.5M855.5 265.4V278.5M857.6 264.1V278.5M859.8 259.2V278.5M862 257.1V278.5M864.3 249.7V278.5M866.5 254.8V278.5M868.6 259.7V278.5M870.8 251.3V278.5M873 261.1V278.5M875.3 262.1V278.5M877.4 260.1V278.5M879.6 264.4V278.5M881.8 265.4V278.5M884.1 267.6V278.5M886.3 263.2V278.5" stroke="#EDB120" stroke-width="1.3" fill="none"/><path d="M814.6 276.8V278.5M816.8 276.8V278.5M819.1 276.8V278.5M821.2 276.8V278.5M823.5 276.7V278.5M825.7 276.7V278.5M827.9 276.6V278.5M830 276.6V278.5M832.2 276.6V278.5M834.4 276.1V278.5M836.7 275.7V278.5M838.9 275.1V278.5M841 274.8V278.5M843.2 274.5V278.5M845.4 274.1V278.5M847.7 273.3V278.5M849.9 272.2V278.5M852.1 271.4V278.5M854.3 269.2V278.5M856.6 265.9V278.5M858.7 263.1V278.5M860.9 258.4V278.5M863.1 253.2V278.5M865.4 256V278.5M867.6 256V278.5M869.7 253.6V278.5M871.9 258.7V278.5M874.1 262.7V278.5M876.4 262.2V278.5M878.5 263.4V278.5M880.7 265.1V278.5M882.9 266.8V278.5M885.2 265.5V278.5M887.4 263.2V278.5M889.9 244.2V278.5M893 248.8V278.5M896.3 245.5V278.5M899.7 248.7V278.5M902.9 243.9V278.5M906.1 246.3V278.5M909.4 242.7V278.5M912.7 243.6V278.5M916.1 245.8V278.5M919.4 239V278.5M922.7 237.8V278.5M926 234V278.5M929.2 232.4V278.5M932.6 237.5V278.5M935.9 231.5V278.5M939.2 230.5V278.5M942.4 227.8V278.5M945.8 235.2V278.5M949.1 237.6V278.5M952.3 237.3V278.5M955.6 237.7V278.5M958.9 247.4V278.5M962.2 249.6V278.5M965.6 250.2V278.5M968.9 251.6V278.5M972.2 252.3V278.5M975.6 253.1V278.5M978.9 247.4V278.5M982.2 248.8V278.5M985.6 260.7V278.5M988.8 263.1V278.5M992 264.2V278.5M814.6 278.5V280.1M816.8 278.5V280.2M819 278.5V280.3M821.2 278.5V280.4M823.4 278.5V280.5M825.6 278.5V280.5M827.8 278.5V280.6M830 278.5V280.7M832.2 278.5V280.8M834.5 278.5V280.8M836.6 278.5V280.9M838.8 278.5V281M841 278.5V281M843.3 278.5V281.5M845.4 278.5V282.8M847.6 278.5V283.8M849.8 278.5V285.1M852 278.5V286M854.2 278.5V286.5M856.4 278.5V289.1M858.7 278.5V294.2M860.9 278.5V297.5M863.1 278.5V300.1M865.3 278.5V303M867.5 278.5V305M869.8 278.5V302.4M871.9 278.5V297.4M874.2 278.5V295.8M876.4 278.5V294.3M878.6 278.5V293.9M880.8 278.5V294.5M883 278.5V291.7M885.1 278.5V289M887.3 278.5V301.6M889.8 278.5V310.9M893 278.5V300.9M896.3 278.5V305M899.5 278.5V307.4M902.8 278.5V301.1M906.2 278.5V308.4M909.5 278.5V308.6M912.8 278.5V307.1M916.1 278.5V303M919.4 278.5V313.2M922.8 278.5V315.9M926.1 278.5V311.8M929.4 278.5V315.9M932.6 278.5V315M936 278.5V318.2M939.2 278.5V311.5M942.5 278.5V309.7M945.7 278.5V307.2M949 278.5V308.6M952.3 278.5V310.5M955.6 278.5V302.2M958.9 278.5V305.8M962.1 278.5V302.6M965.4 278.5V300.6M968.8 278.5V301.3M972.1 278.5V309.8M975.5 278.5V306.9M978.9 278.5V302.4M982.1 278.5V297.1M985.3 278.5V296.5M988.6 278.5V290.2M991.8 278.5V290.5" stroke="#EDB120" stroke-width="1.0" fill="none"/><path d="M888.5 230.2V278.5" stroke="#EDB120" stroke-width="1.9" fill="none"/><path d="M891.4 207.2V278.5M894.6 207.7V278.5M898 206.8V278.5M901.2 202.9V278.5M904.5 200V278.5M907.7 192.3V278.5M911.1 189.1V278.5M914.4 197.3V278.5M917.8 188V278.5M921.1 185V278.5M924.3 173.3V278.5M927.6 173.3V278.5M931 165.3V278.5M934.3 159.5V278.5M937.6 158.9V278.5M940.8 152V278.5M944.2 155.6V278.5M947.4 159.9V278.5M950.7 161V278.5M953.9 166.4V278.5M957.3 178V278.5M960.6 186.5V278.5M963.9 192.9V278.5M967.3 195.7V278.5M970.6 199.3V278.5M973.9 198.2V278.5M977.3 199.3V278.5M980.6 199.3V278.5M983.9 211.7V278.5M987.2 223.4V278.5M990.4 231.3V278.5M993.6 272.8V278.5" stroke="#EDB120" stroke-width="2.3" fill="none"/><path d="M813.5 278.5V280.3M815.7 278.5V280.2M817.9 278.5V280.1M820.1 278.5V280.2M822.3 278.5V280.1M824.5 278.5V280.2M826.7 278.5V280.2M828.9 278.5V280.9M831.1 278.5V280.9M833.4 278.5V280.7M835.5 278.5V280.5M837.7 278.5V280.6M839.9 278.5V281.3M842.2 278.5V281.5M844.3 278.5V282.5M846.5 278.5V283.7M848.7 278.5V284.3M850.9 278.5V285.9M853.1 278.5V286.2M855.3 278.5V288.1M857.6 278.5V291.3M859.8 278.5V298.8M862 278.5V295.4M864.2 278.5V303.7M866.4 278.5V305M868.7 278.5V310M870.8 278.5V299.7M873.1 278.5V293.7M875.3 278.5V295.8M877.5 278.5V295.5M879.7 278.5V292.2M881.9 278.5V296.4M884 278.5V288.6M886.2 278.5V290.1" stroke="#EDB120" stroke-width="1.5" fill="none"/><path d="M888.4 278.5V307.3" stroke="#EDB120" stroke-width="2.0" fill="none"/><path d="M891.3 278.5V338.1M894.6 278.5V365.7M897.9 278.5V359.5M901.2 278.5V362.6M904.6 278.5V371.1M907.8 278.5V371.7M911.1 278.5V373.2M914.4 278.5V376M917.7 278.5V381.8M921.1 278.5V392.5M924.5 278.5V391.3M927.8 278.5V397.7M931 278.5V403.1M934.4 278.5V403.5M937.6 278.5V404.6M940.8 278.5V404.1M944.1 278.5V400M947.4 278.5V397.7M950.6 278.5V393.5M954 278.5V376.9M957.2 278.5V371.1M960.5 278.5V363.7M963.7 278.5V365.7M967.1 278.5V374.3M970.5 278.5V378.6M973.8 278.5V387M977.2 278.5V386M980.4 278.5V371.8M983.7 278.5V349.8M986.9 278.5V318.6M990.2 278.5V324.6M993.6 278.5V339.2" stroke="#EDB120" stroke-width="2.5" fill="none"/>
<path d="M1008.5 272.1V287.8M1009 270.8V288.3M1009.5 271.6V289M1010 270.8V287.3M1010.5 270.7V288.9M1011 245.2V289.8M1011.5 249.6V301.8M1012 245.6V303.3M1012.5 245.8V304M1013 245.3V301.9M1013.5 243V304.7M1014 244.3V303.9M1014.5 247.5V301.8M1015 246.8V302.2M1015.5 244V301.9M1016 241.9V300.4M1016.5 243V300.5M1017 245.4V305M1017.5 240.2V305.1M1018 245.3V304.8M1018.5 239.7V302.5M1019 245.1V304.6M1019.5 239.5V305M1020 244.2V301M1020.5 242.8V302.4M1021 242.6V302.9M1021.5 239.3V302.4M1022 238.1V303.6M1022.5 243.7V304.4M1023 237.4V310.6M1023.5 243V309.5M1024 239.7V311.1M1024.5 235.6V307.7M1025 235.2V307.4M1025.5 241.5V310.7M1026 235.8V310.3M1026.5 237.3V311.7M1027 228.6V310.8M1027.5 225.2V322.5M1028 221.3V329.4M1028.5 227.9V334.8M1029 223.5V329.5M1029.5 225.7V334.5M1030 215.4V332.2M1030.5 218.3V326.7M1031 223.1V327.6M1031.5 221.5V331.2M1032 220.4V328.1M1032.5 216.3V329.5M1033 215.3V326.5M1033.5 208.2V326.5M1034 219.6V327.6M1034.5 213.3V331.1M1035 214.9V331.3M1035.5 208.8V332.9M1036 218.9V329.6M1036.5 220.4V328.6M1037 210.4V326.8M1037.5 210.9V327.7M1038 214.1V330.7M1038.5 209.3V329.6M1039 211.4V333.7M1039.5 220.5V328.9M1040 213.9V331.3M1040.5 212.9V328.9M1041 210.1V326.1M1041.5 210.9V324.8M1042 207.5V328M1042.5 207V328.3M1043 208.2V325M1043.5 208.7V334M1044 214.2V327.6M1044.5 202.5V327.6M1045 211.7V331.5M1045.5 200.5V330.1M1046 208.1V326M1046.5 202.8V332.8M1047 204.3V333.2M1047.5 201.3V327.3M1048 201.5V330.8M1048.5 206.9V327.4M1049 207.4V322.3M1049.5 216.3V317.7M1050 215.7V321.6M1050.5 213.3V322M1051 217.8V320.1M1051.5 221.6V319.3M1052 219.1V319.4M1052.5 221V324.3M1053 218.7V319.2M1053.5 219.4V319.3M1054 221.6V317.1M1054.5 217.7V318.6M1055 219.8V320.8M1055.5 219.7V319M1056 217.7V322.9M1056.5 224.4V318.9M1057 218.2V325.2M1057.5 221.6V323.3M1058 219V323.4M1058.5 222.4V327M1059 220.3V329M1059.5 213.1V335.5M1060 220.7V331M1060.5 220.8V333.2M1061 225.8V327.5M1061.5 225.5V333.1M1062 226.6V331.7M1062.5 227.2V331.5M1063 223V323.4M1063.5 218.6V322.5M1064 224.1V320.4M1064.5 227.5V327.9M1065 220.5V320.3M1065.5 229.8V321.6M1066 229.9V326.5M1066.5 229.4V324.5M1067 231.2V324.3M1067.5 234.5V326.5M1068 229.8V322.8M1068.5 232.2V323.1M1069 234.1V330.7M1069.5 235.1V323.5M1070 231.3V330.6M1070.5 236.3V323.9M1071 235.4V320.8M1071.5 235V318.6M1072 232.4V311.1M1072.5 225.6V308.1M1073 227.3V307M1073.5 237.3V308.4M1074 237.2V310.6M1074.5 247.3V307.8M1075 249V306.6M1075.5 251.6V307.5M1076 248.6V304.9M1076.5 252.1V305M1077 251.8V305.1M1077.5 252V305.5M1078 251.9V303.2M1078.5 249.8V301.8M1079 253V300.4M1079.5 249.1V299.5M1080 251V302.6M1080.5 252.4V298.5M1081 255.9V300.1M1081.5 258.3V296.7M1082 256.5V296.5M1082.5 257.2V295.8M1083 260V294.4M1083.5 257.7V293.2M1084 261.3V292.6M1084.5 259.4V291.4M1085 260.2V291M1085.5 262.7V291.3M1086 263.4V290.5M1086.5 263.1V290.6M1087 263.2V290.1M1087.5 263.9V288.4M1088 262.1V287.1M1088.5 262.2V288.8M1089 264.9V288.4M1089.5 264.6V289.8M1090 265.9V287.9M1090.5 262.9V287.9M1091 264.9V289.2M1091.5 264.7V289.7M1092 264.2V289.6M1092.5 265.9V289.1M1093 265.7V288.7M1093.5 265.3V289M1094 264.7V289.4M1094.5 263.5V288.5M1095 263.5V289.1M1095.5 263.5V288.5M1096 264.9V288.5M1096.5 264.6V288.4M1097 264.8V290.1M1097.5 263.5V288.7M1098 263.4V290.3M1098.5 263.4V289.5M1099 265.2V289M1099.5 263V289.1M1100 263.3V289.7M1100.5 263V289.7M1101 264.6V289.9M1101.5 264.6V290.2M1102 262.9V289.1M1102.5 264.8V290.2M1103 263V290.1M1103.5 261.9V290.4M1104 260.3V289.5M1104.5 261.9V291.7M1105 259.6V290.1M1105.5 262.1V290.4M1106 259.2V292.1M1106.5 258.2V293M1107 258.6V291.8M1107.5 257.6V293.3M1108 259.7V293.4M1108.5 258.5V292.4M1109 260.2V292.9M1109.5 256.7V294.1M1110 256.1V293.3M1110.5 257.9V293.9M1111 257V293.8M1111.5 255.8V292.8M1112 253.9V295M1112.5 256V292.5M1113 254.7V294.5M1113.5 256.5V293.9M1114 253.4V294.7M1114.5 254.4V294.3M1115 253.6V294.5M1115.5 255.4V293.5M1116 254.6V294.8M1116.5 254.2V292.5M1117 257.5V295.2M1117.5 255.1V295.2M1118 256.2V294M1118.5 258.9V292.4M1119 255.1V293.8M1119.5 258.4V295.2M1120 258.5V294M1120.5 258V292.7M1121 256.9V294.4M1121.5 256.2V294.1M1122 255.5V293.3M1122.5 256.4V291.9M1123 257.8V291.5M1123.5 259.5V291.1M1124 259.3V292.6M1124.5 256.3V292.9M1125 257.1V291M1125.5 257.9V291.9M1126 258.8V292.3M1126.5 257.2V292.5M1127 258.4V292.7M1127.5 259.9V292.6M1128 260.5V290.6M1128.5 259.3V292.9M1129 260.6V293M1129.5 258.3V292.9M1130 258.2V292.7M1130.5 260.2V290.5M1131 258.8V292.1M1131.5 259.6V292M1132 258.8V291.1M1132.5 260.3V293.1M1133 261.9V291.7M1133.5 261.8V290.8M1134 259.9V291.3M1134.5 261.7V293M1135 260.8V293.4M1135.5 262.3V293.3M1136 261.8V291.2M1136.5 262.2V291.1M1137 263.5V292.7M1137.5 263.2V293.5M1138 264V291.3M1138.5 262.9V293M1139 262V293.7M1139.5 263.2V293.7M1140 261.7V293.1M1140.5 264.2V291.5M1141 264.1V292.2M1141.5 263.6V293.7M1142 262V292.2M1142.5 263.5V294.3M1143 263.7V292.2M1143.5 261.3V294.3M1144 262.3V293.8M1144.5 262.7V293.8M1145 261.6V294.7M1145.5 260.9V292.9M1146 263.2V293.5M1146.5 263.2V293.5M1147 262.4V293.7M1147.5 261.7V294.6M1148 262.9V294.4M1148.5 262.8V294.2M1149 262.2V293.7M1149.5 263.3V292.3M1150 262.7V292.9M1150.5 262.2V291.8M1151 261.4V293M1151.5 262.5V294.3M1152 262V292.2M1152.5 262.2V293M1153 263.5V294.1M1153.5 261.9V293.9M1154 261.9V292.8M1154.5 261.2V291.9M1155 261.2V292M1155.5 261.4V294M1156 263V292.5M1156.5 261.8V291.5M1157 262.3V294M1157.5 264.1V292M1158 262.6V293.5M1158.5 262V292.4M1159 263.1V292.9M1159.5 263.5V292.6M1160 263.9V291.8M1160.5 261.9V291.3M1161 264.2V291.2M1161.5 263.8V292.4M1162 262.9V291.5M1162.5 264.2V293.7M1163 262.8V292.6M1163.5 261.9V292.4M1164 263.9V291.2M1164.5 264.1V291.4M1165 264.5V291.8M1165.5 262V292M1166 262.1V293.1M1166.5 264.2V291.2M1167 262.2V291.1M1167.5 263.1V292.3M1168 264V291.1M1168.5 263.2V291.5M1169 262V291.2M1169.5 262.2V290.9M1170 262.3V292.7M1170.5 263.7V291.4M1171 261.4V292.6M1171.5 263.1V292.4M1172 262.7V292.1M1172.5 262V292.4M1173 264.5V292.5M1173.5 261.8V291.2M1174 263.1V291.7M1174.5 264.3V290.5M1175 263.1V291.9M1175.5 262.3V292.3M1176 264.2V292.5M1176.5 262.5V291.8M1177 262.3V292.2M1177.5 263.6V291M1178 263V292.5M1178.5 263.4V290.7M1179 264.6V292.7M1179.5 263.5V290.6M1180 264.5V290.4M1180.5 264.6V291.2M1181 262.5V292.3M1181.5 264.4V292M1182 262.4V291.5M1182.5 263.8V290.8M1183 262V292.8M1183.5 263.5V290.6M1184 262.5V291.6M1184.5 262.4V291.5M1185 263.6V291.6M1185.5 264.2V290.8M1186 263.3V292.4M1186.5 262.5V292M1187 261.3V290.5M1187.5 263.9V290.4M1188 262.2V291.1M1188.5 262.9V292.2M1189 261.1V289.7M1189.5 262V291.4M1190 263.7V291.7M1190.5 263.4V291.2M1191 263.4V290.8M1191.5 263.8V289.9M1192 263.5V291.5M1192.5 262.2V290.4M1193 264.5V290.9M1193.5 264.3V290.4M1194 263.7V289.6M1194.5 264.1V289.4M1195 265.2V291.2M1195.5 264.2V291.1M1196 264.5V290.7M1196.5 263.7V290.3M1197 262.9V290.3M1197.5 263.8V289.7M1198 265.1V289.8M1198.5 264V291.1M1199 263.5V289.5M1199.5 262.8V289.2M1200 263.3V289.1M1200.5 264.1V289.9M1201 262.6V290.1M1201.5 263.6V288.8M1202 262.7V290M1202.5 264.2V289.6M1203 263.5V289.4M1203.5 264.6V290.1M1204 264V290.1M1204.5 263.4V289.2M1205 264.4V288.9M1205.5 264.1V289.1M1206 264.7V288.9M1206.5 266.2V289.2M1207 266.1V289.5M1207.5 266.4V289.5M1208 267.5V289M1208.5 267.6V287.4M1209 266.7V287.5M1209.5 267.7V288.7M1210 267.7V287.5M1210.5 269.2V287.4M1211 268.4V287.7M1211.5 268.5V287.4M1212 268.4V288.3M1212.5 269.6V286.5M1213 269.8V287.3M1213.5 268.2V286.3M1214 268.9V286.5M1214.5 269.3V287.5M1215 269.4V287.1M1215.5 268.8V286.2M1216 269V285.6M1216.5 268.2V285.8M1217 269.7V285.7M1217.5 269V285.9M1218 269.1V285.5M1218.5 268.7V286M1219 268.8V285.6M1219.5 269.8V285.1M1220 268.5V286.2M1220.5 269.2V285.3M1221 268.9V285.2M1221.5 269.4V285.6M1222 269.8V284.9M1222.5 270.5V284.9M1223 269.7V284.6M1223.5 269.3V284.2M1224 270.5V284.1M1224.5 269.7V284.3M1225 270.4V283.8M1225.5 271.1V282.7M1226 271V282.1M1226.5 270.7V281.1M1227 271.2V280.6M1227.5 274.8V280.2M1228 274.8V280.2M1228.5 275.3V280.2M1229 275V280.2M1229.5 275.4V280.2" stroke="#7E2F8E" stroke-width="1.1" fill="none"/><path d="M1008.8 242.3V278.5M1011.7 242.8V278.5M1014.7 237.5V278.5M1017.7 240.9V278.5M1020.7 234.6V278.5M1023.7 231.5V278.5M1026.8 213.9V278.5M1029.8 203.9V278.5M1032.7 204.2V278.5M1035.8 199.7V278.5M1038.7 204.9V278.5M1041.7 194.3V278.5M1044.8 180.2V278.5M1047.8 176.3V278.5M1050.8 207.6V278.5M1053.9 224.2V278.5M1056.9 212.1V278.5M1060 195.4V278.5M1063 214.5V278.5M1066 207V278.5M1069 226.7V278.5M1072 214.1V278.5M1075 219.9V278.5M1077.9 242.3V278.5M1008.8 278.5V321M1011.8 278.5V342.3M1014.8 278.5V311.3M1017.8 278.5V331.8M1020.9 278.5V329.8M1023.8 278.5V323M1026.8 278.5V371.1M1029.9 278.5V361.3M1032.8 278.5V353.5M1035.9 278.5V355.3M1038.9 278.5V340.8M1041.9 278.5V352.6M1044.9 278.5V351.8M1047.9 278.5V381.7M1050.8 278.5V338.5M1053.7 278.5V341.2M1056.7 278.5V354.4M1059.8 278.5V355.6M1062.7 278.5V366.4M1065.8 278.5V345.2M1068.8 278.5V349M1071.8 278.5V358M1074.9 278.5V323.1M1077.8 278.5V316.4" stroke="#7E2F8E" stroke-width="2.9" stroke-opacity="0.42" fill="none"/><path d="M1080.9 252.5V278.5M1080.9 278.5V309.4" stroke="#7E2F8E" stroke-width="3.0" stroke-opacity="0.42" fill="none"/><path d="M1083.9 251.1V278.5" stroke="#7E2F8E" stroke-width="3.2" stroke-opacity="0.42" fill="none"/><path d="M1087.2 243.1V278.5" stroke="#7E2F8E" stroke-width="3.5" stroke-opacity="0.42" fill="none"/><path d="M1090.8 237.2V278.5M1094.7 238.6V278.5M1098.5 238.6V278.5M1102.4 230.3V278.5M1106.3 224.3V278.5M1110.1 216.4V278.5M1114 213V278.5M1117.8 214V278.5M1121.7 218.4V278.5M1125.6 219.4V278.5M1129.4 225.9V278.5M1133.4 226.7V278.5M1137.2 233.2V278.5M1141.2 233.8V278.5M1145.2 232.7V278.5M1149.1 230.3V278.5M1153.1 231.3V278.5M1157 231.3V278.5M1161 233.2V278.5M1164.8 234.2V278.5M1168.7 230.3V278.5M1172.6 230.9V278.5M1176.5 234.2V278.5M1180.5 234.2V278.5M1184.4 232.3V278.5M1188.4 229.3V278.5M1192.4 233.2V278.5M1196.4 235.2V278.5M1200.3 235.2V278.5M1204.3 235.2V278.5M1208.1 239.2V278.5M1212.1 249.1V278.5M1216 250.1V278.5M1219.9 250.1V278.5M1223.8 253V278.5M1227.6 257V278.5M1090.9 278.5V323.4M1094.7 278.5V326.4M1098.6 278.5V329.3M1102.6 278.5V331.3M1106.5 278.5V346.1M1110.5 278.5V346.1M1114.4 278.5V349.5M1118.3 278.5V348.1M1122.2 278.5V347.1M1126.1 278.5V340.2M1130.1 278.5V339.2M1134 278.5V342.2M1137.8 278.5V343.2M1141.7 278.5V350.5M1145.6 278.5V351.5M1149.6 278.5V348.7M1153.4 278.5V346.7M1157.4 278.5V346.7M1161.4 278.5V346.1M1165.2 278.5V344.8M1169.1 278.5V344.2M1173 278.5V342.7M1177 278.5V343.6M1180.9 278.5V344.8M1184.8 278.5V343.8M1188.6 278.5V343.8M1192.6 278.5V339.8M1196.4 278.5V339.2M1200.3 278.5V339.2M1204.3 278.5V337.2M1208.1 278.5V334.3M1212 278.5V328.9M1215.9 278.5V324.4M1219.9 278.5V318.4M1223.7 278.5V315.1M1227.6 278.5V309.9" stroke="#7E2F8E" stroke-width="3.8" stroke-opacity="0.42" fill="none"/><path d="M1084 278.5V305.9" stroke="#7E2F8E" stroke-width="3.3" stroke-opacity="0.42" fill="none"/><path d="M1087.3 278.5V329.2" stroke="#7E2F8E" stroke-width="3.6" stroke-opacity="0.42" fill="none"/><path d="M1008.8 241.3V278.5M1011.7 241.8V278.5M1014.7 236.5V278.5M1017.7 239.9V278.5M1020.7 233.6V278.5M1023.7 230.5V278.5M1026.8 212.9V278.5M1029.8 202.9V278.5M1032.7 203.2V278.5M1035.8 198.7V278.5M1038.7 203.9V278.5M1041.7 193.3V278.5M1044.8 179.2V278.5M1047.8 175.3V278.5M1050.8 206.6V278.5M1053.9 223.2V278.5M1056.9 211.1V278.5M1060 194.4V278.5M1063 213.5V278.5M1066 206V278.5M1069 225.7V278.5M1072 213.1V278.5M1075 218.9V278.5M1077.9 241.3V278.5" stroke="#7E2F8E" stroke-width="1.5" fill="none"/><path d="M1010.3 241.9V278.5M1013.2 240.6V278.5M1016.2 238.1V278.5M1019.2 237V278.5M1022.2 233.7V278.5M1025.2 222.2V278.5M1028.3 212.2V278.5M1031.3 207.6V278.5M1034.2 204.9V278.5M1037.3 207.1V278.5M1040.2 204.6V278.5M1043.2 194.5V278.5M1046.3 193.6V278.5M1049.3 188V278.5M1052.3 212.4V278.5M1055.4 215.1V278.5M1058.4 205.3V278.5M1061.5 211V278.5M1064.5 214V278.5M1067.5 219.8V278.5M1070.5 219.9V278.5M1073.5 219.4V278.5M1076.5 240.6V278.5M1079.4 243.9V278.5M1082.4 251.6V278.5M1085.6 254.3V278.5M1089 253V278.5M1092.8 261.2V278.5M1096.6 260.3V278.5M1100.5 261.3V278.5M1104.4 254.3V278.5M1108.2 253.5V278.5M1112.1 252.6V278.5M1116 248.5V278.5M1119.8 254.4V278.5M1123.7 253.6V278.5M1127.6 254V278.5M1131.4 256.4V278.5M1135.3 255.5V278.5M1139.2 258.9V278.5M1143.1 257.4V278.5M1147.2 257.3V278.5M1151.1 258.3V278.5M1155.1 259.2V278.5M1158.9 259.8V278.5M1162.9 259V278.5M1166.7 258.3V278.5M1170.7 257.6V278.5M1174.6 257.7V278.5M1178.5 260.3V278.5M1182.4 260.5V278.5M1186.4 259.8V278.5M1190.4 259.8V278.5M1194.3 261.7V278.5M1198.3 262.1V278.5M1202.3 262.3V278.5M1206.2 262.5V278.5M1210.1 264.5V278.5M1214.1 267.3V278.5M1217.9 266.7V278.5M1221.9 267.7V278.5M1225.8 269V278.5M1229.6 275V278.5M1010.3 278.5V316.3M1013.3 278.5V315.4M1016.3 278.5V319.6M1019.3 278.5V307.3M1022.4 278.5V317.2M1025.3 278.5V322M1028.3 278.5V353M1031.4 278.5V344.9M1034.3 278.5V339.3M1037.4 278.5V341.8M1040.4 278.5V337.5M1043.4 278.5V335.6M1046.4 278.5V339.8M1049.4 278.5V355.3M1052.3 278.5V330.9M1055.2 278.5V331.5M1058.2 278.5V341.6M1061.3 278.5V348M1064.2 278.5V336.6M1067.3 278.5V334.5M1070.3 278.5V338.1M1073.3 278.5V329.4M1076.4 278.5V313.8M1079.3 278.5V308.8M1082.4 278.5V303.3M1085.7 278.5V297M1089.2 278.5V299.9M1092.9 278.5V291.6M1096.7 278.5V295M1100.5 278.5V294.7M1104.5 278.5V298M1108.5 278.5V301.4M1112.4 278.5V296M1116.3 278.5V297.6M1120.2 278.5V302M1124.2 278.5V297.8M1128.1 278.5V294.8M1132 278.5V298.7M1135.9 278.5V298.8M1139.7 278.5V295.5M1143.7 278.5V297.3M1147.6 278.5V300.6M1151.6 278.5V300.7M1155.4 278.5V296.2M1159.3 278.5V300.6M1163.3 278.5V296.8M1167.2 278.5V297.6M1171 278.5V294.8M1174.9 278.5V299M1178.9 278.5V295.6M1182.9 278.5V294.5M1186.7 278.5V298.1M1190.5 278.5V292.5M1194.5 278.5V296.8M1198.4 278.5V297.1M1202.3 278.5V293.3M1206.3 278.5V290.7M1210.1 278.5V291M1214 278.5V291.6M1217.9 278.5V288.3M1221.8 278.5V289M1225.7 278.5V288.3M1229.6 278.5V280.4" stroke="#7E2F8E" stroke-width="1.0" fill="none"/><path d="M1080.9 251.5V278.5" stroke="#7E2F8E" stroke-width="1.6" fill="none"/><path d="M1083.9 250.1V278.5" stroke="#7E2F8E" stroke-width="1.8" fill="none"/><path d="M1087.2 242.1V278.5" stroke="#7E2F8E" stroke-width="2.1" fill="none"/><path d="M1090.8 236.2V278.5M1094.7 237.6V278.5M1098.5 237.6V278.5M1102.4 229.3V278.5M1106.3 223.3V278.5M1110.1 215.4V278.5M1114 212V278.5M1117.8 213V278.5M1121.7 217.4V278.5M1125.6 218.4V278.5M1129.4 224.9V278.5M1133.4 225.7V278.5M1137.2 232.2V278.5M1141.2 232.8V278.5M1145.2 231.7V278.5M1149.1 229.3V278.5M1153.1 230.3V278.5M1157 230.3V278.5M1161 232.2V278.5M1164.8 233.2V278.5M1168.7 229.3V278.5M1172.6 229.9V278.5M1176.5 233.2V278.5M1180.5 233.2V278.5M1184.4 231.3V278.5M1188.4 228.3V278.5M1192.4 232.2V278.5M1196.4 234.2V278.5M1200.3 234.2V278.5M1204.3 234.2V278.5M1208.1 238.2V278.5M1212.1 248.1V278.5M1216 249.1V278.5M1219.9 249.1V278.5M1223.8 252V278.5M1227.6 256V278.5M1087.3 278.5V330.2" stroke="#7E2F8E" stroke-width="2.4" fill="none"/><path d="M1008.8 278.5V322M1011.8 278.5V343.3M1014.8 278.5V312.3M1017.8 278.5V332.8M1020.9 278.5V330.8M1023.8 278.5V324M1026.8 278.5V372.1M1029.9 278.5V362.3M1032.8 278.5V354.5M1035.9 278.5V356.3M1038.9 278.5V341.8M1041.9 278.5V353.6M1044.9 278.5V352.8M1047.9 278.5V382.7M1050.8 278.5V339.5M1053.7 278.5V342.2M1056.7 278.5V355.4M1059.8 278.5V356.6M1062.7 278.5V367.4M1065.8 278.5V346.2M1068.8 278.5V350M1071.8 278.5V359M1074.9 278.5V324.1M1077.8 278.5V317.4M1080.9 278.5V310.4" stroke="#7E2F8E" stroke-width="1.7" fill="none"/><path d="M1084 278.5V306.9" stroke="#7E2F8E" stroke-width="2.0" fill="none"/><path d="M1090.9 278.5V324.4M1094.7 278.5V327.4M1098.6 278.5V330.3M1102.6 278.5V332.3M1106.5 278.5V347.1M1110.5 278.5V347.1M1114.4 278.5V350.5M1118.3 278.5V349.1M1122.2 278.5V348.1M1126.1 278.5V341.2M1130.1 278.5V340.2M1134 278.5V343.2M1137.8 278.5V344.2M1141.7 278.5V351.5M1145.6 278.5V352.5M1149.6 278.5V349.7M1153.4 278.5V347.7M1157.4 278.5V347.7M1161.4 278.5V347.1M1165.2 278.5V345.8M1169.1 278.5V345.2M1173 278.5V343.7M1177 278.5V344.6M1180.9 278.5V345.8M1184.8 278.5V344.8M1188.6 278.5V344.8M1192.6 278.5V340.8M1196.4 278.5V340.2M1200.3 278.5V340.2M1204.3 278.5V338.2M1208.1 278.5V335.3M1212 278.5V329.9M1215.9 278.5V325.4M1219.9 278.5V319.4M1223.7 278.5V316.1M1227.6 278.5V310.9" stroke="#7E2F8E" stroke-width="2.7" fill="none"/>
<path d="M1244 276.8V281.6M1244.5 276.8V281.6M1245 276.8V281.4M1245.5 276.8V281.4M1246 276.8V281.3M1246.5 271.3V283.2M1247 269.1V291M1247.5 267.4V290.1M1248 266.8V290.2M1248.5 262.9V289.9M1249 263.2V290.4M1249.5 264.2V289.2M1250 265.4V290.2M1250.5 265.1V289.1M1251 265.6V290.3M1251.5 264.9V289.5M1252 265.9V289.4M1252.5 265.1V289.4M1253 264.1V289.2M1253.5 265.6V291.5M1254 263.9V290.3M1254.5 263.7V290.2M1255 262.7V293M1255.5 262.4V293.7M1256 259.2V294M1256.5 260.7V292.7M1257 258.6V293.6M1257.5 259.9V293.3M1258 256.5V294.9M1258.5 255.5V295M1259 253.3V297.2M1259.5 252V298.9M1260 250.2V299.6M1260.5 249.2V301M1261 245.3V304.3M1261.5 243.4V306.4M1262 245.7V307.8M1262.5 242.7V304.3M1263 247.4V308.8M1263.5 241.7V308.8M1264 246.8V308.4M1264.5 244.5V311.1M1265 242.5V311M1265.5 246.2V306.8M1266 244.9V311.5M1266.5 246.7V312M1267 244.2V309.4M1267.5 244.6V311.5M1268 242V312.8M1268.5 244.7V313.5M1269 241.8V313.2M1269.5 243.1V314.6M1270 238.2V311.4M1270.5 238.1V314.1M1271 241.3V315.9M1271.5 239V317.9M1272 243V318.6M1272.5 236.9V316.8M1273 238.6V318.6M1273.5 238.1V315.6M1274 237.9V315.9M1274.5 235.6V323M1275 241.8V322M1275.5 238.1V324M1276 240.4V325.4M1276.5 234.9V327.3M1277 239.7V319.9M1277.5 238.9V326.8M1278 239.2V323.2M1278.5 235.3V325.9M1279 235V335M1279.5 237.7V336M1280 233.3V334.7M1280.5 233.9V334.5M1281 232.4V335.4M1281.5 228.5V335.7M1282 226.3V342M1282.5 224.4V335.4M1283 220.3V336.6M1283.5 227.5V336M1284 224.2V342.5M1284.5 225.9V346.5M1285 215.6V339.4M1285.5 215.9V338.9M1286 213.5V339.5M1286.5 219.2V346.3M1287 214.9V342.8M1287.5 204.8V340.2M1288 215V345.4M1288.5 201.7V342.6M1289 202.4V346.2M1289.5 207.1V353.6M1290 190.8V346.7M1290.5 195.2V355.1M1291 181.8V349.5M1291.5 182.2V349.6M1292 183.5V359.4M1292.5 174.8V352.2M1293 176.6V354.9M1293.5 183V349.2M1294 174.8V351.7M1294.5 163.4V353.2M1295 168.9V350.7M1295.5 151V340.4M1296 173.9V341.5M1296.5 165.4V334.6M1297 167.5V327.2M1297.5 186.3V328.1M1298 177.3V326.7M1298.5 191.4V329.5M1299 192.2V322.2M1299.5 196.2V323.3M1300 202V319M1300.5 207.9V317.2M1301 215.5V323.3M1301.5 219.4V322.3M1302 211V321.1M1302.5 217.6V323M1303 207.6V322.4M1303.5 216.5V322.9M1304 210.6V320.2M1304.5 212.6V319.4M1305 211.1V317.5M1305.5 213V320.9M1306 208.1V324.8M1306.5 209.3V320.3M1307 213V323M1307.5 209.3V324.9M1308 198.4V326.3M1308.5 202.4V325.8M1309 196.2V328M1309.5 199.2V327.3M1310 193.1V328.8M1310.5 181V330.1M1311 191V328.5M1311.5 171.6V334M1312 169.6V331.2M1312.5 174.3V334.3M1313 173.8V339.6M1313.5 167.6V336.9M1314 168.6V349.2M1314.5 154.9V355M1315 151.2V355.1M1315.5 153.7V355M1316 143.2V356.6M1316.5 143.7V365.2M1317 129.7V377.5M1317.5 134.1V373.9M1318 144.1V375.1M1318.5 132.5V378.5M1319 136V381.1M1319.5 164.6V374.2M1320 165.9V365.6M1320.5 165.8V375.9M1321 167.9V364.4M1321.5 152.5V361.4M1322 159V368.7M1322.5 175.6V370M1323 158.2V352.3M1323.5 161.9V359.3M1324 161.9V362.4M1324.5 165.3V355.9M1325 163V348.4M1325.5 166.8V345M1326 173.6V344.9M1326.5 167V347.2M1327 178.9V343.2M1327.5 181.7V346.7M1328 171.7V340.8M1328.5 171V337.3M1329 166.3V342.3M1329.5 168.6V346.4M1330 168.5V336.5M1330.5 176.7V340.1M1331 183.6V337.8M1331.5 169.1V337.3M1332 187.5V336M1332.5 180.9V342.5M1333 191.3V337M1333.5 202.2V330.7M1334 197V337.9M1334.5 213.7V333.3M1335 210.7V329.9M1335.5 213.5V331.8M1336 220.6V332.1M1336.5 211V339.5M1337 224.3V333.7M1337.5 218.1V338.4M1338 219.4V331.4M1338.5 226.1V338.5M1339 222.6V337.3M1339.5 229V334.7M1340 222.6V337.2M1340.5 225.3V338.2M1341 232.1V334.3M1341.5 225.3V331M1342 233V331.1M1342.5 232.4V337.1M1343 226.8V330.8M1343.5 230V334M1344 226.4V333.5M1344.5 226.8V326.8M1345 227.4V330.3M1345.5 232.4V327.4M1346 230.8V327.9M1346.5 223.4V333.1M1347 229.4V326.1M1347.5 221.4V328.7M1348 227V333.3M1348.5 221V329.4M1349 219.5V333.8M1349.5 224.7V329.6M1350 225.1V335.4M1350.5 222.7V335M1351 215.4V333.4M1351.5 224.2V334.3M1352 225.7V332.4M1352.5 220.9V327M1353 221.4V329.6M1353.5 225.7V326.3M1354 215.1V327.2M1354.5 217.4V324.5M1355 209.3V325.8M1355.5 216.9V326M1356 215.4V320.4M1356.5 211.4V321.5M1357 214.5V319.5M1357.5 221.6V322.4M1358 224.2V320.8M1358.5 215.4V321.4M1359 219.8V321.3M1359.5 224V314M1360 226.5V313.6M1360.5 227.4V318.5M1361 231.8V320.5M1361.5 229.3V317M1362 236.4V315.5M1362.5 232.9V313.3M1363 235V319.9M1363.5 239.5V315.5M1364 238.9V316.5M1364.5 241.1V316.4M1365 240.2V314.1M1365.5 244.8V321.5M1366 240.5V316M1366.5 243.1V314.6M1367 242.7V318.7M1367.5 242.2V316.4M1368 242.1V314.3M1368.5 246.9V318.4M1369 243.2V311.8M1369.5 241.3V311M1370 241.8V315.5M1370.5 246.1V311.5M1371 241.7V311.4M1371.5 241.1V314.9M1372 240.1V309.7M1372.5 238.7V313M1373 238.2V312.3M1373.5 240.6V314.5M1374 240.2V311.9M1374.5 236.6V312.2M1375 236.7V314.1M1375.5 235.5V310.5M1376 237.3V309.7M1376.5 236.2V309.7M1377 241.4V311.9M1377.5 239.1V312.8M1378 242V311M1378.5 237.4V310.7M1379 237.8V313.3M1379.5 243.5V311.4M1380 239.5V314.4M1380.5 239.7V316M1381 244.2V313.5M1381.5 240.7V315.6M1382 244.7V313.3M1382.5 241.9V313.4M1383 240V311.4M1383.5 240.1V308.9M1384 238.2V306.9M1384.5 240V310.9M1385 238V306.2M1385.5 240.2V306.3M1386 237.7V309.9M1386.5 233.8V304.6M1387 235.7V307.8M1387.5 232.6V305.2M1388 242V307.7M1388.5 238.2V305.8M1389 240.9V308.2M1389.5 248.1V304.6M1390 248.4V307.4M1390.5 247.9V306.3M1391 245.6V307.3M1391.5 243.6V306.8M1392 245.5V303.8M1392.5 242.7V304.7M1393 245.2V301.1M1393.5 247.3V302.7M1394 247.8V299.2M1394.5 246.1V301.5M1395 247.1V299.6M1395.5 250.6V297.7M1396 251.5V297.7M1396.5 253.4V299M1397 256.8V296.2M1397.5 256.9V298.6M1398 260.2V297.4M1398.5 258.8V296.3M1399 261.5V297.1M1399.5 261.9V294.2M1400 262.6V294.3M1400.5 262.9V295.3M1401 264.3V292.9M1401.5 262.6V293.8M1402 262.6V294.1M1402.5 265.1V291.6M1403 262.9V292.4M1403.5 262.9V292.2M1404 264.8V290.9M1404.5 265.2V290.4M1405 263.8V291.4M1405.5 264.8V290.6M1406 263.3V288.1M1406.5 267.1V287M1407 270.4V286.5M1407.5 274.6V284.6M1408 276.8V283.4M1408.5 276.8V283.2M1409 276.8V283.3M1409.5 276.8V283.8M1410 276.8V283.9" stroke="#77AC30" stroke-width="1.1" fill="none"/><path d="M1244.3 272.1V278.5M1247.3 257.2V278.5M1250.2 265.6V278.5M1253.3 263.8V278.5M1256.2 252.3V278.5M1259.2 238.1V278.5M1262.2 247.5V278.5M1265.2 239V278.5M1268.1 242.1V278.5M1271.1 230.6V278.5M1274.1 235.4V278.5M1277.1 232.4V278.5M1280.1 217.5V278.5M1283 221V278.5M1286 205.1V278.5M1289 181.9V278.5M1292 160.2V278.5M1295.1 127.5V278.5M1298 133.4V278.5M1301 168.3V278.5M1304.1 204.2V278.5M1307 190.1V278.5M1310 163.8V278.5M1313 138.3V278.5M1316 104.8V278.5M1318.9 81.9V278.5M1321.9 134.1V278.5M1324.9 147.9V278.5M1327.9 155.4V278.5M1330.8 148.7V278.5M1333.8 158.8V278.5M1336.8 195.9V278.5M1339.9 217V278.5M1342.9 220.7V278.5M1346 225V278.5M1349 205.3V278.5M1351.9 210.2V278.5M1354.9 194.1V278.5M1357.9 205.1V278.5M1360.8 213.7V278.5M1363.8 232.1V278.5M1366.9 240.3V278.5M1369.8 238.8V278.5M1372.8 227V278.5M1375.9 236.2V278.5M1378.9 230.3V278.5M1381.8 235.6V278.5M1384.8 232V278.5M1387.8 221.2V278.5M1390.8 240.7V278.5M1393.7 245.8V278.5M1396.7 238.9V278.5M1399.6 255.6V278.5M1402.7 262.1V278.5M1405.7 253.8V278.5M1408.7 273.1V278.5" stroke="#77AC30" stroke-width="2.9" stroke-opacity="0.42" fill="none"/><path d="M1245.3 278.5V304.6M1248.5 278.5V303M1251.8 278.5V302.6M1254.9 278.5V312.4M1258.1 278.5V325.9M1261.3 278.5V340.3M1264.5 278.5V341.1M1267.6 278.5V350M1270.8 278.5V361.9M1273.9 278.5V375.6M1277 278.5V399.5M1280.3 278.5V396.4M1283.5 278.5V413.3M1286.7 278.5V429.2M1290 278.5V439.6M1293.2 278.5V443.6M1296.3 278.5V435.2M1299.5 278.5V387.5M1302.6 278.5V367.8M1305.9 278.5V377.7M1309.2 278.5V393.4M1312.4 278.5V409.4M1315.6 278.5V462.7M1318.7 278.5V519M1321.9 278.5V485.1M1325.1 278.5V465M1328.2 278.5V436.8M1331.3 278.5V419.3M1334.5 278.5V401.4M1337.8 278.5V394.1M1340.9 278.5V390.2M1344 278.5V397.6M1347.2 278.5V391.5M1350.4 278.5V391.4M1353.6 278.5V399.5M1356.8 278.5V379.6M1360 278.5V365M1363.3 278.5V362M1366.5 278.5V367.8M1369.8 278.5V356.7M1372.9 278.5V350M1376.2 278.5V352.1M1379.3 278.5V353.2M1382.6 278.5V356.7M1385.9 278.5V342.1M1389.2 278.5V340.3M1392.4 278.5V336.3M1395.6 278.5V328.3M1398.9 278.5V322.3M1402.1 278.5V310.5M1405.3 278.5V305.4M1408.4 278.5V304.6" stroke="#77AC30" stroke-width="3.1" stroke-opacity="0.42" fill="none"/><path d="M1244.3 271.1V278.5M1247.3 256.2V278.5M1250.2 264.6V278.5M1253.3 262.8V278.5M1256.2 251.3V278.5M1259.2 237.1V278.5M1262.2 246.5V278.5M1265.2 238V278.5M1268.1 241.1V278.5M1271.1 229.6V278.5M1274.1 234.4V278.5M1277.1 231.4V278.5M1280.1 216.5V278.5M1283 220V278.5M1286 204.1V278.5M1289 180.9V278.5M1292 159.2V278.5M1295.1 126.5V278.5M1298 132.4V278.5M1301 167.3V278.5M1304.1 203.2V278.5M1307 189.1V278.5M1310 162.8V278.5M1313 137.3V278.5M1316 103.8V278.5M1318.9 80.9V278.5M1321.9 133.1V278.5M1324.9 146.9V278.5M1327.9 154.4V278.5M1330.8 147.7V278.5M1333.8 157.8V278.5M1336.8 194.9V278.5M1339.9 216V278.5M1342.9 219.7V278.5M1346 224V278.5M1349 204.3V278.5M1351.9 209.2V278.5M1354.9 193.1V278.5M1357.9 204.1V278.5M1360.8 212.7V278.5M1363.8 231.1V278.5M1366.9 239.3V278.5M1369.8 237.8V278.5M1372.8 226V278.5M1375.9 235.2V278.5M1378.9 229.3V278.5M1381.8 234.6V278.5M1384.8 231V278.5M1387.8 220.2V278.5M1390.8 239.7V278.5M1393.7 244.8V278.5M1396.7 237.9V278.5M1399.6 254.6V278.5M1402.7 261.1V278.5M1405.7 252.8V278.5M1408.7 272.1V278.5" stroke="#77AC30" stroke-width="1.5" fill="none"/><path d="M1245.8 265.3V278.5M1248.8 258.8V278.5M1251.7 263.3V278.5M1254.8 257.1V278.5M1257.7 248.5V278.5M1260.7 240.2V278.5M1263.7 239.6V278.5M1266.7 238.3V278.5M1269.6 235.3V278.5M1272.6 233.2V278.5M1275.6 233.2V278.5M1278.6 226.6V278.5M1281.6 215.9V278.5M1284.5 209.3V278.5M1287.5 189.6V278.5M1290.5 169.1V278.5M1293.5 143.3V278.5M1296.6 138V278.5M1299.5 167.1V278.5M1302.5 195.3V278.5M1305.6 199V278.5M1308.5 175.4V278.5M1311.5 155.6V278.5M1314.5 126.5V278.5M1317.5 101.7V278.5M1320.4 121.2V278.5M1323.4 149.8V278.5M1326.4 157.5V278.5M1329.4 157.2V278.5M1332.3 159.6V278.5M1335.3 183.5V278.5M1338.3 207.8V278.5M1341.4 220.7V278.5M1344.4 221.5V278.5M1347.5 209.4V278.5M1350.5 212.3V278.5M1353.4 204.1V278.5M1356.4 201.8V278.5M1359.4 212V278.5M1362.3 220.5V278.5M1365.3 234.3V278.5M1368.4 240.7V278.5M1371.3 231.5V278.5M1374.3 229.6V278.5M1377.4 232.8V278.5M1380.4 234.8V278.5M1383.3 235.5V278.5M1386.3 228.3V278.5M1389.3 229.7V278.5M1392.3 241.9V278.5M1395.2 239.9V278.5M1398.2 251.3V278.5M1401.1 258.4V278.5M1404.2 260.9V278.5M1407.2 256.3V278.5M1246.9 278.5V292.3M1250.1 278.5V293.4M1253.4 278.5V294.9M1256.5 278.5V302.7M1259.7 278.5V309.7M1262.9 278.5V318.5M1266.1 278.5V320M1269.2 278.5V321.6M1272.4 278.5V330M1275.5 278.5V336.1M1278.6 278.5V340.6M1281.9 278.5V353.3M1285.1 278.5V363M1288.3 278.5V365.9M1291.6 278.5V376.6M1294.8 278.5V375.9M1297.9 278.5V353.4M1301.1 278.5V338.9M1304.2 278.5V330.5M1307.5 278.5V337.5M1310.8 278.5V349.3M1314 278.5V383.8M1317.2 278.5V404.1M1320.3 278.5V405.6M1323.5 278.5V387.2M1326.7 278.5V370.2M1329.8 278.5V361.8M1332.9 278.5V348.6M1336.1 278.5V341.7M1339.4 278.5V342.2M1342.5 278.5V348.4M1345.6 278.5V339M1348.8 278.5V347.2M1352 278.5V340.7M1355.2 278.5V340.7M1358.4 278.5V334.2M1361.6 278.5V328M1364.9 278.5V325.3M1368.1 278.5V327.5M1371.4 278.5V321.5M1374.5 278.5V320M1377.8 278.5V318.7M1380.9 278.5V320.5M1384.2 278.5V317.9M1387.5 278.5V313.7M1390.8 278.5V313.3M1394 278.5V307.2M1397.2 278.5V302.7M1400.5 278.5V297.9M1403.7 278.5V297M1406.9 278.5V294" stroke="#77AC30" stroke-width="1.0" fill="none"/><path d="M1245.3 278.5V305.6M1248.5 278.5V304M1251.8 278.5V303.6M1254.9 278.5V313.4M1258.1 278.5V326.9M1261.3 278.5V341.3M1264.5 278.5V342.1M1267.6 278.5V351M1270.8 278.5V362.9M1273.9 278.5V376.6M1277 278.5V400.5M1280.3 278.5V397.4M1283.5 278.5V414.3M1286.7 278.5V430.2M1290 278.5V440.6M1293.2 278.5V444.6M1296.3 278.5V436.2M1299.5 278.5V388.5M1302.6 278.5V368.8M1305.9 278.5V378.7M1309.2 278.5V394.4M1312.4 278.5V410.4M1315.6 278.5V463.7M1318.7 278.5V520M1321.9 278.5V486.1M1325.1 278.5V466M1328.2 278.5V437.8M1331.3 278.5V420.3M1334.5 278.5V402.4M1337.8 278.5V395.1M1340.9 278.5V391.2M1344 278.5V398.6M1347.2 278.5V392.5M1350.4 278.5V392.4M1353.6 278.5V400.5M1356.8 278.5V380.6M1360 278.5V366M1363.3 278.5V363M1366.5 278.5V368.8M1369.8 278.5V357.7M1372.9 278.5V351M1376.2 278.5V353.1M1379.3 278.5V354.2M1382.6 278.5V357.7M1385.9 278.5V343.1M1389.2 278.5V341.3M1392.4 278.5V337.3M1395.6 278.5V329.3M1398.9 278.5V323.3M1402.1 278.5V311.5M1405.3 278.5V306.4M1408.4 278.5V305.6" stroke="#77AC30" stroke-width="1.8" fill="none"/>
<path d="M1424.2 276.8V282.2M1424.7 276.8V282.4M1425.2 276.8V282.2M1425.7 276.8V282.7M1426.2 276.8V282.2M1426.7 271.6V283.2M1427.2 266V285.9M1427.7 261.8V288.6M1428.2 263.6V291.5M1428.7 262.1V293.9M1429.2 263.3V297.5M1429.7 263V296.9M1430.2 263.9V298.3M1430.7 263V298.1M1431.2 261.3V299.9M1431.7 257.9V298.8M1432.2 256.4V300.9M1432.7 252.7V298.7M1433.2 253.5V300.3M1433.7 251.8V303.8M1434.2 249.6V303.4M1434.7 252.9V303.5M1435.2 257.9V300.7M1435.7 257.3V300.9M1436.2 257.1V300.6M1436.7 258.2V300.7M1437.2 254V304M1437.7 258.1V304.2M1438.2 254.5V301.5M1438.7 255V302M1439.2 254.6V301.3M1439.7 255V306.6M1440.2 249.3V312.7M1440.7 245.4V312.5M1441.2 243.2V319.3M1441.7 247.6V324.9M1442.2 247.2V329.6M1442.7 248.6V331.1M1443.2 245.2V327.1M1443.7 245.6V329.5M1444.2 245.4V323.9M1444.7 239.5V328.5M1445.2 232.2V327.3M1445.7 232.1V327.7M1446.2 223.1V330.6M1446.7 225.4V332.3M1447.2 220.1V334.5M1447.7 210.8V336.9M1448.2 207.2V334.1M1448.7 212V334.6M1449.2 203.6V343.8M1449.7 202.1V341.4M1450.2 199V339.3M1450.7 197.5V330.8M1451.2 211.7V328.5M1451.7 210.1V329.7M1452.2 224.8V326.9M1452.7 225.8V331.9M1453.2 231.5V332.9M1453.7 225.4V325.6M1454.2 231.1V325.6M1454.7 231.9V329.4M1455.2 230.5V328M1455.7 231.9V333.1M1456.2 231.3V330.3M1456.7 224.5V333.3M1457.2 222.8V334.4M1457.7 229.3V338.3M1458.2 218.5V336.7M1458.7 220.6V335.2M1459.2 213.5V345.1M1459.7 218.7V336.5M1460.2 227.4V338.1M1460.7 223V332.8M1461.2 222.2V331.1M1461.7 223.4V332.2M1462.2 224.3V329M1462.7 225.4V332.5M1463.2 223.4V331.6M1463.7 226.7V330.1M1464.2 224.7V324.5M1464.7 229.1V330.4M1465.2 228.1V323.5M1465.7 222.7V314.9M1466.2 230.7V310.4M1466.7 227.1V310.4M1467.2 233.4V308.4M1467.7 240.2V308M1468.2 242.7V306.4M1468.7 240.9V310.3M1469.2 243.9V310.5M1469.7 245.7V310M1470.2 243.3V309.6M1470.7 245.3V312.4M1471.2 245.6V313.3M1471.7 246.8V312.2M1472.2 247.3V312.7M1472.7 245.7V318.4M1473.2 241V319.6M1473.7 245.4V318.8M1474.2 246.4V317.3M1474.7 245V319.7M1475.2 243V314.5M1475.7 245.1V315.6M1476.2 242.5V313.2M1476.7 246.2V314.5M1477.2 242.6V313.9M1477.7 243.8V312.3M1478.2 243.1V310.1M1478.7 244.8V303.9M1479.2 247.4V302.2M1479.7 246.6V299.7M1480.2 247.6V301.1M1480.7 244.1V302.6M1481.2 247.2V298.9M1481.7 247.7V300.3M1482.2 243.1V300.9M1482.7 247.9V301.7M1483.2 248.7V301.9M1483.7 241.7V309.5M1484.2 242.4V312.5M1484.7 242.3V310.7M1485.2 242V315M1485.7 241.5V313M1486.2 242.5V315.1M1486.7 247.4V310.1M1487.2 243.9V310.5M1487.7 242.5V316M1488.2 245.5V313.8M1488.7 231.3V308.6M1489.2 224.4V301.6M1489.7 233.2V293.5M1490.2 244.1V294.9M1490.7 256.3V293.4M1491.2 257.8V293.3M1491.7 257.5V294.8M1492.2 258.2V294.2M1492.7 258.9V293.6M1493.2 259V294.6M1493.7 258.8V293.1M1494.2 259.7V293.2M1494.7 261.8V294.6M1495.2 261V292.3M1495.7 258.9V293.8M1496.2 260.8V292.2M1496.7 260.8V294.1M1497.2 258.8V293.4M1497.7 259.8V297.3M1498.2 258.4V297.1M1498.7 260.4V294M1499.2 261V294.2M1499.7 260.2V293.3M1500.2 259.3V293.5M1500.7 259.3V295.2M1501.2 258.1V293.4M1501.7 261.2V293M1502.2 258.9V294.4M1502.7 254.9V294.6M1503.2 255.9V295.3M1503.7 254.2V293.6M1504.2 256.9V295M1504.7 256.1V293.1M1505.2 253.2V292.9M1505.7 256.7V292.4M1506.2 253.5V291.8M1506.7 255.7V290.2M1507.2 256.2V290.7M1507.7 258.8V290.3M1508.2 260.7V289.2M1508.7 259.6V289.5M1509.2 261.6V287.5M1509.7 263.8V288.5M1510.2 263.3V288.2M1510.7 264.9V287.7M1511.2 267.3V286.6M1511.7 266.3V285.5M1512.2 267.1V286.2M1512.7 267.5V284.9M1513.2 268.9V285.5M1513.7 269.8V284.6M1514.2 269.6V284.8M1514.7 270.6V285.1M1515.2 269.4V284.5M1515.7 270.4V284.9M1516.2 270.3V284.9M1516.7 269.7V285.1M1517.2 269.9V285.2M1517.7 269.4V285.3M1518.2 270V284.5M1518.7 269.9V285.1M1519.2 268.6V285.1M1519.7 269.4V284.2M1520.2 269.6V283.3M1520.7 268.9V282.8M1521.2 268.9V282.9M1521.7 267.4V283.5M1522.2 265.6V284.1M1522.7 262.6V284.8M1523.2 262.4V285.8M1523.7 257.7V287M1524.2 260V288.8M1524.7 257V290.3M1525.2 256.6V293.8M1525.7 259.3V292.9M1526.2 259.4V294.7M1526.7 255.1V296.5M1527.2 255.8V300.3M1527.7 252.9V299.8M1528.2 252.4V299.5M1528.7 252.8V304.3M1529.2 252.4V303.7M1529.7 252.5V306M1530.2 254.8V307.1M1530.7 257.2V305.4M1531.2 255.4V308.2M1531.7 255.5V306.7M1532.2 254.4V307.5M1532.7 255.1V307.6M1533.2 257.1V305.6M1533.7 255.1V307.6M1534.2 255.7V308.7M1534.7 255.6V305.7M1535.2 256.6V306.6M1535.7 257.8V306.2M1536.2 254.9V305.9M1536.7 257.5V308.2M1537.2 254V307.7M1537.7 256.8V310.9M1538.2 254.8V311.4M1538.7 256.4V306.1M1539.2 255.2V310.8M1539.7 253.8V310.7M1540.2 252V307M1540.7 252.1V308M1541.2 255V308.4M1541.7 251.7V311.4M1542.2 253.6V308.4M1542.7 253V310.1M1543.2 254.6V308.4M1543.7 250.9V307M1544.2 249.8V307.4M1544.7 250V310.1M1545.2 249.9V307.9M1545.7 249.6V306.8M1546.2 253.2V306.9M1546.7 252.8V307.2M1547.2 248.1V310M1547.7 252.6V309.8M1548.2 250.7V310.2M1548.7 252.6V308.4M1549.2 250.1V309.4M1549.7 250.4V307.3M1550.2 248.5V306.6M1550.7 250.8V308.9M1551.2 247.1V309.2M1551.7 249V305.8M1552.2 250.4V309.3M1552.7 247.3V309.4M1553.2 250.1V311.5M1553.7 246.3V309M1554.2 244.9V310.8M1554.7 244.3V310.5M1555.2 248.7V310.6M1555.7 243.3V308.4M1556.2 248.4V308M1556.7 246.7V312.3M1557.2 245V310.9M1557.7 242.9V313.9M1558.2 242.1V312.4M1558.7 245.8V309.5M1559.2 246.8V313.7M1559.7 243V312.5M1560.2 243.5V312.6M1560.7 241.5V313.8M1561.2 245.3V313.6M1561.7 243.5V312.2M1562.2 237V312.8M1562.7 238.4V311M1563.2 243.2V309.3M1563.7 243.2V312M1564.2 239.5V314M1564.7 240.8V311.9M1565.2 240.9V309.4M1565.7 236.8V311.5M1566.2 240.3V313.3M1566.7 236.6V312.7M1567.2 237.5V311.4M1567.7 239.4V311M1568.2 236.6V312.5M1568.7 241.2V312.5M1569.2 236.4V310.5M1569.7 235.1V311.1M1570.2 241.2V310.3M1570.7 240.9V313.8M1571.2 240.3V315.4M1571.7 238.3V309.1M1572.2 234.2V312.4M1572.7 235.3V314.2M1573.2 235V312.2M1573.7 236V313.7M1574.2 236.7V310.5M1574.7 237.9V313.9M1575.2 236.2V308.3M1575.7 234.9V311.8M1576.2 239.8V312.6M1576.7 239V312.4M1577.2 239.2V309.1M1577.7 238.7V308.5M1578.2 234.3V309.7M1578.7 238.8V308.3M1579.2 237.4V308.8M1579.7 240.7V309.1M1580.2 240.1V306.9M1580.7 239.1V307.4M1581.2 239.4V306.4M1581.7 242.7V304.6M1582.2 243.4V306.8M1582.7 243.6V304.8M1583.2 247.6V305.8M1583.7 248.1V305.6M1584.2 248.1V304.7M1584.7 251.2V303.5M1585.2 246.1V303M1585.7 250.2V303.1M1586.2 248.6V304.9M1586.7 250V303.1M1587.2 253V305.3M1587.7 251.3V305.8M1588.2 250.6V303.6M1588.7 249.7V303.8M1589.2 250.8V305.2M1589.7 255V305.4M1590.2 250.8V305.6M1590.7 251.3V301.6M1591.2 255V301.2M1591.7 253V304.5M1592.2 251.1V303.1M1592.7 251.9V304.2M1593.2 251.7V305.4M1593.7 253.8V302.9M1594.2 255.4V303.7M1594.7 252.8V303.5M1595.2 251.1V304.9M1595.7 251.1V303.9M1596.2 251.4V304.4M1596.7 250.3V302.1M1597.2 249.6V304.2M1597.7 253.4V301.1M1598.2 250.1V301.5M1598.7 249.4V303.1M1599.2 246.6V303.8M1599.7 246.1V303.3M1600.2 249V300.5M1600.7 245.6V301.7M1601.2 246V297.8M1601.7 245.1V298.1M1602.2 243.6V297.8M1602.7 245.7V297.8M1603.2 244.4V295.4M1603.7 244.6V296.2M1604.2 245.8V293.1M1604.7 243.9V294.6M1605.2 248.5V293.8M1605.7 250.1V292.3M1606.2 246.7V290.4M1606.7 249.7V291M1607.2 250.1V288.2M1607.7 254.2V287.3M1608.2 253.9V287.5M1608.7 258.8V285.7M1609.2 258.5V285.9M1609.7 262.8V285.1M1610.2 265.9V284.4M1610.7 266.8V283.4M1611.2 269.6V282.8M1611.7 271.6V281.6M1612.2 273V281.7M1612.7 275.3V281.2M1613.2 275.6V281.6M1613.7 276V282.1M1614.2 275.7V282.1M1614.7 275.9V282M1615.2 275.6V282.9M1615.7 275.8V282.9M1616.2 276V283.5M1616.7 275.6V282.8M1617.2 275.6V283.5M1617.7 275.7V283.9M1618.2 275.2V283.9M1618.7 274.5V284.6M1619.2 274.3V285.1M1619.7 273.4V284.7M1620.2 273.4V285.3M1620.7 273.4V285.8M1621.2 273V286M1621.7 272.5V286.5M1622.2 271.5V285.3M1622.7 271.6V286M1623.2 271.9V285.5M1623.7 273V285.4M1624.2 273.4V284.9M1624.7 273.5V284.4M1625.2 273.7V284M1625.7 274.3V284.1M1626.2 274.1V283.7M1626.7 274.8V283.6M1627.2 274.8V283.3M1627.7 274.3V283.5M1628.2 274.9V282.8M1628.7 274.5V282.6M1629.2 275V282.4M1629.7 274.9V282.6M1630.2 274.2V282.1M1630.7 274.2V282M1631.2 274.6V282.1M1631.7 274.2V282.4M1632.2 274.9V282.1M1632.7 274.2V281.7M1633.2 274.4V282M1633.7 274.6V281.8M1634.2 274.9V282M1634.7 274.2V281.8M1635.2 274.9V281.9M1635.7 275V281.9M1636.2 274.9V281.3M1636.7 274.9V281.6M1637.2 274.6V281.5M1637.7 274.5V281.7M1638.2 274.6V281.1M1638.7 274.9V281.1M1639.2 274.9V281.1M1639.7 274.9V281.1M1640.2 274.9V281.4M1640.7 275.1V281.2M1641.2 274.9V281M1641.7 274.9V281.1M1642.2 275.4V280.8M1642.7 275.4V281.1M1643.2 275.2V280.8M1643.7 275.3V281.1M1644.2 275.4V281.1M1644.7 275.7V281M1645.2 275.4V280.9M1645.7 275.5V280.7M1646.2 275.8V280.9M1646.7 275.8V280.9M1647.2 275.8V280.9M1647.7 275.9V280.8M1648.2 276.1V280.7M1648.7 276V280.8M1649.2 276V280.8M1649.7 276V281M1650.2 276V280.7M1650.7 276.3V280.9M1651.2 276.1V280.6M1651.7 276.2V281M1652.2 276.4V280.9M1652.7 276.2V280.9M1653.2 276.6V280.7M1653.7 276.2V280.6M1654.2 276.2V280.3M1654.7 276.6V280.2M1655.2 276.5V280.2M1655.7 276.4V280.2M1656.2 276.3V280.2M1656.7 276.4V280.2M1657.2 276.6V280.2M1657.7 276.5V280.2M1658.2 276.8V280.2M1658.7 276.8V280.2M1659.2 276.8V280.2M1659.7 276.8V280.2M1660.2 276.8V280.2M1660.7 276.8V280.2M1661.2 276.8V280.2M1661.7 276.8V280.2" stroke="#4DBEEE" stroke-width="1.1" fill="none"/><path d="M1424.5 252.3V278.5M1427.6 260.6V278.5M1430.5 249.5V278.5M1433.5 239.1V278.5M1436.5 253.2V278.5M1439.6 236.3V278.5M1442.7 240.6V278.5M1445.7 194.5V278.5M1448.7 183V278.5M1451.7 187.6V278.5M1454.7 222.3V278.5M1457.7 197.9V278.5M1460.6 195.9V278.5M1463.5 218.9V278.5M1466.5 203V278.5M1469.5 220.7V278.5M1472.4 226.2V278.5M1475.4 239.7V278.5M1478.5 231.6V278.5M1481.5 243.4V278.5M1484.6 188V278.5M1487.6 185.4V278.5M1490.7 202.1V278.5M1493.6 251.6V278.5M1496.6 244.3V278.5M1499.6 258.8V278.5M1502.6 238.8V278.5M1505.6 249.1V278.5M1508.6 255.1V278.5M1511.6 264.2V278.5M1514.6 270V278.5M1517.5 269.6V278.5M1424.5 278.5V282.7M1427.4 278.5V304.3M1430.4 278.5V306.4M1433.4 278.5V324.6M1436.4 278.5V308.8M1439.3 278.5V342M1442.3 278.5V344.3M1445.3 278.5V357.2M1448.3 278.5V341.7M1451.3 278.5V363.1M1454.3 278.5V343.6M1457.4 278.5V360.1M1460.4 278.5V370.3M1463.5 278.5V341.9M1466.5 278.5V362.5M1469.4 278.5V328.1M1472.5 278.5V316.2M1475.5 278.5V330.1M1478.5 278.5V328.2M1481.5 278.5V307.5M1484.5 278.5V358.2M1487.5 278.5V370.3M1490.5 278.5V298.7M1493.4 278.5V295.5M1496.3 278.5V315.3M1499.3 278.5V298.5M1502.3 278.5V293.8M1505.2 278.5V299.7M1508.2 278.5V291.5M1511.1 278.5V290.6M1514.1 278.5V286M1517.2 278.5V285.5" stroke="#4DBEEE" stroke-width="2.9" stroke-opacity="0.5" fill="none"/><path d="M1520.5 244.1V278.5" stroke="#4DBEEE" stroke-width="3.1" stroke-opacity="0.5" fill="none"/><path d="M1523.6 241.3V278.5M1527 231.2V278.5M1530.3 228.5V278.5M1533.6 239.5V278.5M1537 235.8V278.5M1540.2 232.7V278.5M1543.4 228.5V278.5M1546.7 228.1V278.5M1550 223.9V278.5M1553.3 219.4V278.5M1556.5 217V278.5M1559.9 210.3V278.5M1563.2 209.3V278.5M1566.5 206.6V278.5M1569.9 205.8V278.5M1573.2 203.9V278.5M1576.5 199.4V278.5M1579.9 201.1V278.5M1583.2 213.4V278.5M1586.4 224.3V278.5M1589.7 230.3V278.5M1593 233.1V278.5M1596.2 230.3V278.5M1599.5 219.9V278.5M1602.7 214.3V278.5M1606 217.2V278.5M1609.4 228.1V278.5M1523.3 278.5V335.2M1526.5 278.5V367.2M1529.8 278.5V393.3M1533.1 278.5V384.3M1536.4 278.5V399M1539.6 278.5V395.7M1542.9 278.5V395.1M1546.1 278.5V395.6M1549.4 278.5V391M1552.8 278.5V399M1556.1 278.5V403.6M1559.4 278.5V407.1M1562.8 278.5V410.1M1566.1 278.5V412.7M1569.4 278.5V412.2M1572.8 278.5V411.6M1576.1 278.5V407M1579.4 278.5V403.7M1582.7 278.5V395.6M1585.9 278.5V385.8M1589.2 278.5V381.4M1592.5 278.5V377M1595.8 278.5V375.1M1599.1 278.5V375M1602.4 278.5V371M1605.8 278.5V352.3M1609.1 278.5V328.3M1612.4 278.5V303.2" stroke="#4DBEEE" stroke-width="3.2" stroke-opacity="0.5" fill="none"/><path d="M1612.8 257.7V278.5" stroke="#4DBEEE" stroke-width="3.3" stroke-opacity="0.5" fill="none"/><path d="M1616.2 275.1V278.5M1619.8 268.7V278.5M1623.4 265.9V278.5M1627.1 272.3V278.5M1630.6 272.8V278.5M1634.3 272V278.5M1637.8 272.5V278.5M1641.4 272.9V278.5M1644.9 273.9V278.5M1648.4 274.6V278.5M1652.1 275.1V278.5M1655.7 276V278.5M1659.3 276V278.5M1615.8 278.5V286.1M1619.4 278.5V290.7M1623 278.5V293M1626.6 278.5V287.3M1630.3 278.5V285.1M1633.9 278.5V283.8M1637.5 278.5V282.9M1641 278.5V282.4M1644.6 278.5V282.2M1648.2 278.5V281.7M1651.9 278.5V281.7M1655.4 278.5V281.6M1659 278.5V279.4" stroke="#4DBEEE" stroke-width="3.5" stroke-opacity="0.5" fill="none"/><path d="M1520.2 278.5V306.7" stroke="#4DBEEE" stroke-width="3.0" stroke-opacity="0.5" fill="none"/><path d="M1424.5 251.3V278.5M1427.6 259.6V278.5M1430.5 248.5V278.5M1433.5 238.1V278.5M1436.5 252.2V278.5M1439.6 235.3V278.5M1442.7 239.6V278.5M1445.7 193.5V278.5M1448.7 182V278.5M1451.7 186.6V278.5M1454.7 221.3V278.5M1457.7 196.9V278.5M1460.6 194.9V278.5M1463.5 217.9V278.5M1466.5 202V278.5M1469.5 219.7V278.5M1472.4 225.2V278.5M1475.4 238.7V278.5M1478.5 230.6V278.5M1481.5 242.4V278.5M1484.6 187V278.5M1487.6 184.4V278.5M1490.7 201.1V278.5M1493.6 250.6V278.5M1496.6 243.3V278.5M1499.6 257.8V278.5M1502.6 237.8V278.5M1505.6 248.1V278.5M1508.6 254.1V278.5M1511.6 263.2V278.5M1514.6 269V278.5M1517.5 268.6V278.5" stroke="#4DBEEE" stroke-width="1.5" fill="none"/><path d="M1426 253V278.5M1429.1 258.9V278.5M1432 247.4V278.5M1435 241.9V278.5M1438 248.3V278.5M1441.1 240.5V278.5M1444.2 217.9V278.5M1447.2 196.8V278.5M1450.2 189.7V278.5M1453.2 197.5V278.5M1456.2 213.3V278.5M1459.2 200.7V278.5M1462.1 216.2V278.5M1465 210.5V278.5M1468 220.2V278.5M1471 239.2V278.5M1473.9 230.1V278.5M1476.9 239.3V278.5M1480 236.9V278.5M1483 208.3V278.5M1486.1 237.2V278.5M1489.1 194.5V278.5M1492.2 240.8V278.5M1495.1 258V278.5M1498.1 247.9V278.5M1501.1 247.1V278.5M1504.1 249.8V278.5M1507.1 250.2V278.5M1510.1 256.4V278.5M1513.1 264.7V278.5M1516.1 268.8V278.5M1519 264V278.5M1522 250.8V278.5M1525.2 253.2V278.5M1528.6 246.5V278.5M1532 251.5V278.5M1535.3 252.5V278.5M1538.6 249.8V278.5M1541.9 248.9V278.5M1545.1 245.9V278.5M1548.4 244.9V278.5M1551.6 242.1V278.5M1555 239.1V278.5M1558.2 236.8V278.5M1561.6 235.2V278.5M1564.9 235.5V278.5M1568.2 233.5V278.5M1571.5 233.2V278.5M1574.8 231.5V278.5M1578.2 230.2V278.5M1581.6 233.6V278.5M1584.8 240.7V278.5M1588 246.3V278.5M1591.3 248V278.5M1594.6 248.7V278.5M1597.9 243.2V278.5M1601.1 239.4V278.5M1604.3 238.1V278.5M1607.7 244.8V278.5M1611.1 256.9V278.5M1614.4 273.4V278.5M1618 272.5V278.5M1621.6 270.2V278.5M1625.2 271.5V278.5M1628.9 273.6V278.5M1632.4 273.5V278.5M1636.1 273.6V278.5M1639.6 274.1V278.5M1643.2 274.7V278.5M1646.7 275.2V278.5M1650.2 275.5V278.5M1653.9 275.9V278.5M1657.5 276.1V278.5M1661.1 277.3V278.5M1426 278.5V291.9M1428.9 278.5V301.9M1431.9 278.5V307.4M1434.9 278.5V315.5M1437.9 278.5V313.5M1440.8 278.5V333.4M1443.8 278.5V335M1446.8 278.5V350M1449.8 278.5V353.9M1452.8 278.5V339.1M1455.8 278.5V342.3M1458.9 278.5V356.9M1461.9 278.5V347.2M1465 278.5V344.3M1468 278.5V312.7M1470.9 278.5V322.7M1474 278.5V323.9M1477 278.5V323.9M1480 278.5V313.2M1483 278.5V333.5M1486 278.5V320.1M1489 278.5V353.9M1492 278.5V296.6M1494.9 278.5V296.1M1497.8 278.5V309.2M1500.8 278.5V296.5M1503.8 278.5V297.3M1506.7 278.5V295.3M1509.7 278.5V291.4M1512.6 278.5V288.6M1515.6 278.5V286.1M1518.7 278.5V287.1M1521.7 278.5V301.7M1524.9 278.5V300.5M1528.2 278.5V317.5M1531.4 278.5V309.6M1534.8 278.5V319.3M1538 278.5V320.1M1541.3 278.5V319.2M1544.5 278.5V313M1547.8 278.5V314.2M1551.1 278.5V323M1554.5 278.5V314.6M1557.7 278.5V319.3M1561.1 278.5V325.7M1564.4 278.5V321.5M1567.8 278.5V319.9M1571 278.5V322.9M1574.4 278.5V317.1M1577.8 278.5V316.6M1581.1 278.5V317.3M1584.3 278.5V316.7M1587.6 278.5V313M1590.9 278.5V307.4M1594.2 278.5V314.5M1597.4 278.5V311.3M1600.8 278.5V305.6M1604 278.5V304.5M1607.4 278.5V294.4M1610.7 278.5V288.8M1614.1 278.5V282.4M1617.6 278.5V285.3M1621.2 278.5V288.4M1624.8 278.5V287.6M1628.4 278.5V284.1M1632.1 278.5V283.4M1635.7 278.5V282.5M1639.3 278.5V282.2M1642.8 278.5V281.6M1646.4 278.5V281.3M1650 278.5V281.4M1653.7 278.5V281.1M1657.2 278.5V280.3M1660.8 278.5V279.1" stroke="#4DBEEE" stroke-width="1.0" fill="none"/><path d="M1520.5 243.1V278.5M1616.2 274.1V278.5M1619.8 267.7V278.5M1623.4 264.9V278.5M1627.1 271.3V278.5M1630.6 271.8V278.5M1634.3 271V278.5M1637.8 271.5V278.5M1641.4 271.9V278.5M1644.9 272.9V278.5M1648.4 273.6V278.5M1652.1 274.1V278.5M1655.7 275V278.5M1659.3 275V278.5" stroke="#4DBEEE" stroke-width="1.8" fill="none"/><path d="M1523.6 240.3V278.5M1527 230.2V278.5M1530.3 227.5V278.5M1533.6 238.5V278.5M1537 234.8V278.5M1540.2 231.7V278.5M1543.4 227.5V278.5M1546.7 227.1V278.5M1550 222.9V278.5M1553.3 218.4V278.5M1556.5 216V278.5M1559.9 209.3V278.5M1563.2 208.3V278.5M1566.5 205.6V278.5M1569.9 204.8V278.5M1573.2 202.9V278.5M1576.5 198.4V278.5M1579.9 200.1V278.5M1583.2 212.4V278.5M1586.4 223.3V278.5M1589.7 229.3V278.5M1593 232.1V278.5M1596.2 229.3V278.5M1599.5 218.9V278.5M1602.7 213.3V278.5M1606 216.2V278.5M1609.4 227.1V278.5M1612.8 256.7V278.5M1520.2 278.5V307.7" stroke="#4DBEEE" stroke-width="2.0" fill="none"/><path d="M1424.5 278.5V283.7M1427.4 278.5V305.3M1430.4 278.5V307.4M1433.4 278.5V325.6M1436.4 278.5V309.8M1439.3 278.5V343M1442.3 278.5V345.3M1445.3 278.5V358.2M1448.3 278.5V342.7M1451.3 278.5V364.1M1454.3 278.5V344.6M1457.4 278.5V361.1M1460.4 278.5V371.3M1463.5 278.5V342.9M1466.5 278.5V363.5M1469.4 278.5V329.1M1472.5 278.5V317.2M1475.5 278.5V331.1M1478.5 278.5V329.2M1481.5 278.5V308.5M1484.5 278.5V359.2M1487.5 278.5V371.3M1490.5 278.5V299.7M1493.4 278.5V296.5M1496.3 278.5V316.3M1499.3 278.5V299.5M1502.3 278.5V294.8M1505.2 278.5V300.7M1508.2 278.5V292.5M1511.1 278.5V291.6M1514.1 278.5V287M1517.2 278.5V286.5" stroke="#4DBEEE" stroke-width="1.7" fill="none"/><path d="M1523.3 278.5V336.2M1526.5 278.5V368.2M1529.8 278.5V394.3M1533.1 278.5V385.3M1536.4 278.5V400M1539.6 278.5V396.7M1542.9 278.5V396.1M1546.1 278.5V396.6M1549.4 278.5V392M1552.8 278.5V400M1556.1 278.5V404.6M1559.4 278.5V408.1M1562.8 278.5V411.1M1566.1 278.5V413.7M1569.4 278.5V413.2M1572.8 278.5V412.6M1576.1 278.5V408M1579.4 278.5V404.7M1582.7 278.5V396.6M1585.9 278.5V386.8M1589.2 278.5V382.4M1592.5 278.5V378M1595.8 278.5V376.1M1599.1 278.5V376M1602.4 278.5V372M1605.8 278.5V353.3M1609.1 278.5V329.3" stroke="#4DBEEE" stroke-width="2.4" fill="none"/><path d="M1612.4 278.5V304.2" stroke="#4DBEEE" stroke-width="2.3" fill="none"/><path d="M1615.8 278.5V287.1M1619.4 278.5V291.7M1623 278.5V294M1626.6 278.5V288.3M1630.3 278.5V286.1M1633.9 278.5V284.8M1637.5 278.5V283.9M1641 278.5V283.4M1644.6 278.5V283.2M1648.2 278.5V282.7M1651.9 278.5V282.7M1655.4 278.5V282.6M1659 278.5V280.4" stroke="#4DBEEE" stroke-width="2.1" fill="none"/>
<path d="M1676.7 276.8V280.2M1677.2 276.8V280.2M1677.7 276.8V280.2M1678.2 276.8V280.2M1678.7 276.8V280.2M1679.2 276.8V280.2M1679.7 276.8V280.2M1680.2 276.8V280.2M1680.7 276.8V280.2M1681.2 276.8V280.6M1681.7 276.8V280.7M1682.2 276.8V281.2M1682.7 276.8V281.1M1683.2 276.8V281.6M1683.7 276.8V281.5M1684.2 276.8V281.9M1684.7 276.7V282.4M1685.2 276V282.6M1685.7 275.1V282.7M1686.2 274.5V283.3M1686.7 275.1V283M1687.2 275.5V283.3M1687.7 275.8V284.3M1688.2 275.6V283.7M1688.7 275.6V284.1M1689.2 275.5V283.9M1689.7 275.8V284.2M1690.2 275.4V283.9M1690.7 275.5V283.5M1691.2 275.6V283.5M1691.7 275.5V284.1M1692.2 275.3V283.8M1692.7 274.5V283.5M1693.2 274.5V283.2M1693.7 274.7V282.8M1694.2 275V282.7M1694.7 275.2V282.6M1695.2 275.2V282.6M1695.7 274.9V282.7M1696.2 274.9V282.7M1696.7 274.8V283.1M1697.2 274.9V283M1697.7 274.7V282.6M1698.2 274.4V283.1M1698.7 273.6V282.5M1699.2 273.4V282.5M1699.7 273.2V283.6M1700.2 272.1V283.3M1700.7 271.9V284.4M1701.2 271V283.9M1701.7 270.8V283.4M1702.2 269.7V282.9M1702.7 268.3V282.7M1703.2 268.8V283M1703.7 266.4V283.1M1704.2 265.6V285.6M1704.7 262.8V288.9M1705.2 263.9V291.7M1705.7 259.5V294.1M1706.2 259V296.4M1706.7 258.7V300.1M1707.2 253.8V300.4M1707.7 254.4V303.9M1708.2 256.3V309.3M1708.7 253.2V309.5M1709.2 254.8V313.1M1709.7 249.1V313.6M1710.2 251V317.4M1710.7 248.7V314.9M1711.2 244.3V317.4M1711.7 238.6V317.7M1712.2 235.1V317.2M1712.7 232.1V318.5M1713.2 230.7V318.6M1713.7 228.1V317.5M1714.2 233.1V314.7M1714.7 231.3V310.8M1715.2 223.5V311.5M1715.7 229.2V313.5M1716.2 229.3V309.8M1716.7 228.2V308.7M1717.2 226.1V307M1717.7 228V309.9M1718.2 220V308.6M1718.7 220.4V306.3M1719.2 215.6V305.3M1719.7 215.5V308.4M1720.2 219.9V304.3M1720.7 210.1V309M1721.2 210.9V309.6M1721.7 202.9V304.7M1722.2 209V307.4M1722.7 214.2V308.5M1723.2 206.7V306.3M1723.7 200V305.1M1724.2 208.1V308.7M1724.7 199.9V309.9M1725.2 200.5V305.5M1725.7 211.5V306.6M1726.2 202.5V309.4M1726.7 201.9V308.2M1727.2 206.2V309.8M1727.7 210.2V308M1728.2 200.4V310.4M1728.7 207.4V311.5M1729.2 200.1V314.3M1729.7 203.2V315.5M1730.2 193.3V314.7M1730.7 191.1V317.2M1731.2 185.7V319.1M1731.7 183.1V315.9M1732.2 187.9V318.8M1732.7 190.3V323.1M1733.2 176.4V319.3M1733.7 175.6V320.1M1734.2 175.8V325.3M1734.7 175V325.1M1735.2 171.9V323.4M1735.7 173.2V333.3M1736.2 187.3V331.8M1736.7 186.3V334.2M1737.2 186.4V334.1M1737.7 173.6V334.6M1738.2 170.4V336.2M1738.7 169.1V335.7M1739.2 177.1V343.7M1739.7 173.8V342.2M1740.2 182.5V345.4M1740.7 182.6V343.8M1741.2 188.2V337.9M1741.7 175.5V346M1742.2 184.3V348.6M1742.7 179.7V350.5M1743.2 179.1V347M1743.7 179.9V353.8M1744.2 178.2V348.3M1744.7 182.7V345.6M1745.2 173.7V356.4M1745.7 170.3V347.8M1746.2 171.1V352M1746.7 168.2V360.1M1747.2 170.9V359.4M1747.7 177.5V364.6M1748.2 156.8V370.4M1748.7 153.6V361.2M1749.2 163.5V364.4M1749.7 155V369.8M1750.2 160.8V378.7M1750.7 163.7V379.8M1751.2 163.1V381.5M1751.7 145.7V375.5M1752.2 151.8V389.1M1752.7 146.1V385.2M1753.2 146.3V386.9M1753.7 165V371.7M1754.2 160.7V388.6M1754.7 152.7V382M1755.2 159.3V380.6M1755.7 165.2V379.2M1756.2 163.6V375.3M1756.7 179.5V367.5M1757.2 166.1V375.1M1757.7 168.4V360.5M1758.2 166.8V371.9M1758.7 167.7V370.4M1759.2 174.1V360.3M1759.7 175.9V370.1M1760.2 169.7V358.9M1760.7 188.1V363.8M1761.2 187.8V365M1761.7 183.5V366.1M1762.2 182.4V371.7M1762.7 179.3V363M1763.2 178.2V359.4M1763.7 191.2V367.7M1764.2 183.6V354.7M1764.7 188.8V359.7M1765.2 189.3V363.9M1765.7 175.7V357M1766.2 183.6V354.3M1766.7 173.6V366.3M1767.2 184.3V363.9M1767.7 183.9V357.5M1768.2 183.6V362.2M1768.7 176.4V355.5M1769.2 188.9V360.8M1769.7 185.9V357.9M1770.2 188.1V359.4M1770.7 177.1V360.1M1771.2 173.1V352.8M1771.7 188V355.6M1772.2 187.4V352M1772.7 175V351.9M1773.2 188.4V353.2M1773.7 182.2V362.4M1774.2 182.3V350M1774.7 190.5V348.5M1775.2 177.2V351.4M1775.7 183.6V360.6M1776.2 191.8V350.9M1776.7 178V352.1M1777.2 185.1V352.5M1777.7 178V352.7M1778.2 178.1V358.8M1778.7 191V359.7M1779.2 186.5V346.3M1779.7 191V345M1780.2 193.3V344M1780.7 182.6V349.3M1781.2 189.8V349.2M1781.7 185.1V339.1M1782.2 188.5V337.6M1782.7 190.9V335.7M1783.2 193.3V343.1M1783.7 186.7V332.2M1784.2 192.3V337.9M1784.7 185.7V331.3M1785.2 187.4V333.2M1785.7 196.3V330.3M1786.2 192.5V327.1M1786.7 207V325.2M1787.2 202.7V326.5M1787.7 201.2V323.7M1788.2 207V328M1788.7 211.2V325.4M1789.2 210.6V320.6M1789.7 202.7V319.8M1790.2 208.8V326M1790.7 211V322.6M1791.2 214.7V321.3M1791.7 217.3V318.6M1792.2 211.1V324.9M1792.7 213.6V319.4M1793.2 210.8V319.5M1793.7 218.1V322.6M1794.2 209.5V317.2M1794.7 218.8V322.8M1795.2 216.6V317.4M1795.7 210.6V317.6M1796.2 208.5V319.4M1796.7 218.7V319.1M1797.2 222.1V317.9M1797.7 224.7V316.4M1798.2 222.5V315.6M1798.7 233V315M1799.2 235.2V316.6M1799.7 240.2V315.3M1800.2 241.9V315.1M1800.7 244.7V312.5M1801.2 244.7V308.6M1801.7 247.1V314M1802.2 249.4V310.1M1802.7 248.5V309.6M1803.2 255.2V311.3M1803.7 254.4V308M1804.2 253.8V308.2M1804.7 258.4V304.9M1805.2 258V303.6M1805.7 260.4V302.2M1806.2 261.3V305.3M1806.7 258.5V302.3M1807.2 257.6V303.1M1807.7 257.8V301.5M1808.2 258.2V303.1M1808.7 258.2V302.9M1809.2 257.8V301M1809.7 258.7V301.7M1810.2 260.5V300.4M1810.7 262.1V300.2M1811.2 260V304M1811.7 261.9V301.1M1812.2 261.4V302.2M1812.7 261.1V304.7M1813.2 263.5V303M1813.7 261.5V304.6M1814.2 263.3V303.7M1814.7 262.4V301M1815.2 262.7V304.4M1815.7 263.7V302.2M1816.2 263.5V303.7M1816.7 264.1V304.6M1817.2 264.4V303.3M1817.7 264.9V303.3M1818.2 263.5V304.7M1818.7 263.3V300.4M1819.2 264.6V300.8M1819.7 265.3V304.5M1820.2 264.3V303.2M1820.7 265.1V302.4M1821.2 264.9V301.7M1821.7 264.8V301.2M1822.2 263V303.9M1822.7 263.9V301.2M1823.2 261.7V304.4M1823.7 263.8V303.4M1824.2 264.5V305.9M1824.7 262.2V302.1M1825.2 263.2V305.6M1825.7 264V303.6M1826.2 263.1V301M1826.7 264.1V304.2M1827.2 262.5V305.4M1827.7 264V303.9M1828.2 264.1V301.3M1828.7 264.4V301.6M1829.2 264V300.5M1829.7 264.1V303.9M1830.2 263.9V301.5M1830.7 262.1V300.7M1831.2 262.1V300.8M1831.7 264.4V300.5M1832.2 264.8V301.5M1832.7 265V302.8M1833.2 265.8V300.3M1833.7 266.1V303.3M1834.2 264.5V303.8M1834.7 264.6V299.9M1835.2 263.5V301.9M1835.7 264.6V301.4M1836.2 263.6V301.8M1836.7 265.9V300.5M1837.2 264.6V303M1837.7 263.8V301.8M1838.2 263.5V298.8M1838.7 265.3V301.9M1839.2 264V300.8M1839.7 264V300.8M1840.2 264.2V297.5M1840.7 264.5V297.3M1841.2 263.3V300M1841.7 262.9V298.9M1842.2 263.7V299M1842.7 265V299.4M1843.2 265.1V299.8M1843.7 264.5V299.7M1844.2 266.2V298.1M1844.7 265.3V299.2M1845.2 265.6V297.4M1845.7 265.4V297.9M1846.2 265.6V299.1M1846.7 264.9V296.8M1847.2 266.2V299.6M1847.7 266V299.6M1848.2 265.4V297.7M1848.7 267.6V298M1849.2 266.5V297.5M1849.7 267.7V298.7M1850.2 267.6V298.5M1850.7 267.5V296.9M1851.2 266.3V296.7M1851.7 266.3V295.9M1852.2 266V295.2M1852.7 266.8V295.3M1853.2 266.2V294.1M1853.7 266.7V294.9M1854.2 266.6V294.9M1854.7 267.8V294.1M1855.2 267.7V294.5M1855.7 266.9V293.3M1856.2 265.8V293.2M1856.7 267.6V294.5M1857.2 267.5V294M1857.7 265.4V292.7M1858.2 266.9V294.2M1858.7 265.6V292.5M1859.2 265.8V293.5M1859.7 267.7V293.2M1860.2 266.7V293.7M1860.7 268.3V293.6M1861.2 268.6V294.5M1861.7 268.5V294.4M1862.2 269.5V292M1862.7 270.4V293.3M1863.2 269.9V291.6M1863.7 269.2V293.6M1864.2 269.9V293M1864.7 269.4V291.4M1865.2 269.3V291.1M1865.7 270.5V290.6M1866.2 269.6V291.2M1866.7 269.7V291.2M1867.2 270V291.3M1867.7 268.8V290.2M1868.2 269.4V289.5M1868.7 268.6V289.6M1869.2 269.6V289.3M1869.7 268.7V290.1M1870.2 269V289.7M1870.7 268.9V289.8M1871.2 269.2V288.6M1871.7 269.8V289.9M1872.2 269.1V288.2M1872.7 270.2V288M1873.2 269.1V289.7M1873.7 270.4V289.9M1874.2 270.2V288.4M1874.7 269.7V289.3M1875.2 269.2V289.2M1875.7 269.7V287.9M1876.2 270.5V288.3M1876.7 268.8V288.1M1877.2 270.3V289.6M1877.7 269.3V289.2M1878.2 269.6V288.1M1878.7 270.1V288M1879.2 270.5V289.6M1879.7 270.6V288.2M1880.2 270.3V288.6M1880.7 270.2V288.8M1881.2 271.5V287.9M1881.7 270.4V288.5M1882.2 270.4V288.5M1882.7 271.1V287.7M1883.2 270.6V287.7M1883.7 271.5V287.8M1884.2 271.2V287.1M1884.7 270.6V286.7M1885.2 271.1V285.8M1885.7 271.6V286.3M1886.2 270.9V285.5M1886.7 270.5V285.7M1887.2 270.8V285.1M1887.7 270.7V285.1M1888.2 270.5V285.7M1888.7 270.3V284.9M1889.2 270.7V285.8M1889.7 271.3V285.3M1890.2 271.1V284.7M1890.7 270.4V285.8M1891.2 269.5V285M1891.7 270.6V285.8M1892.2 269.1V286.1M1892.7 269.6V285.7M1893.2 268.7V287.2M1893.7 269V287.1M1894.2 268.7V287.8M1894.7 269.4V288.1M1895.2 268V287.6M1895.7 268.8V288M1896.2 268.1V287.9M1896.7 267.2V289.2M1897.2 268V288.9M1897.7 268.1V288.8M1898.2 266.3V288.9M1898.7 268V288.6M1899.2 268.5V288.5M1899.7 268.7V289.8M1900.2 267.4V288.5M1900.7 267.5V289.2M1901.2 268.4V288.6M1901.7 269.9V287.2M1902.2 269V287.8M1902.7 270.1V286.6M1903.2 270.9V286.3M1903.7 270V286.7M1904.2 271.4V286.5M1904.7 271.6V285.5M1905.2 271.7V285.6M1905.7 272.3V285.3M1906.2 272V285.1M1906.7 272.4V284.4M1907.2 272.7V285M1907.7 273.5V284.8M1908.2 272.8V284.7M1908.7 272.7V284M1909.2 273.2V284.9M1909.7 273.3V284.1M1910.2 273.1V284M1910.7 273.6V284.7M1911.2 273.3V284.6M1911.7 273.6V284.2M1912.2 273.5V284.5M1912.7 273.5V284.1M1913.2 273.1V284.3M1913.7 273V283.8M1914.2 273.3V284.3M1914.7 272.8V283.4M1915.2 273V284.1M1915.7 272.3V284.4M1916.2 272.5V283.4M1916.7 272.7V283.5M1917.2 273.8V282.5M1917.7 273.8V282.1M1918.2 275.1V281.8M1918.7 275.8V281.2M1919.2 276.4V280.9M1919.7 276.8V280.9M1920.2 276.8V280.7M1920.7 276.8V281M1921.2 276.8V280.8M1921.7 276.8V281.7M1922.2 276.8V282.3M1922.7 276.8V282.6M1923.2 276.8V282.8M1923.7 276.8V282.7M1924.2 276.8V283.1M1924.7 276.7V282.9M1925.2 276.5V282.9M1925.7 276.1V283M1926.2 276V282.7M1926.7 276V282.3M1927.2 275.8V282.2M1927.7 275.7V282.2M1928.2 274.9V282.6M1928.7 275.1V282M1929.2 275.6V282.3M1929.7 276.1V282.6M1930.2 276.2V281.9M1930.7 276.8V282.1M1931.2 276.8V281.7M1931.7 276.8V281.7M1932.2 276.8V281.6M1932.7 276.8V281.8M1933.2 276.8V281.8M1933.7 276.8V281.9M1934.2 276.8V281.6M1934.7 276.8V281.4M1935.2 276.8V281.8M1935.7 276.8V281.6M1936.2 276.7V281.5M1936.7 276.7V281.3M1937.2 276.6V281.7M1937.7 276.6V281.6M1938.2 276.3V281.6M1938.7 276.2V281.4M1939.2 276.2V281.2M1939.7 275.8V281.1M1940.2 276.1V281M1940.7 275.8V281.2M1941.2 276.2V281.3M1941.7 275.9V280.9M1942.2 276.1V281M1942.7 276V281M1943.2 276.2V281M1943.7 276.3V280.9M1944.2 275.9V280.8M1944.7 276.4V280.8M1945.2 276V281M1945.7 276.2V280.9M1946.2 276.2V280.8M1946.7 276.3V280.9M1947.2 276.3V280.7M1947.7 276.4V280.9M1948.2 276.5V280.6M1948.7 276.6V280.5M1949.2 276.6V280.3M1949.7 276.6V280.3M1950.2 276.6V280.3M1950.7 276.5V280.2M1951.2 276.6V280.2M1951.7 276.8V280.2M1952.2 276.7V280.2M1952.7 276.6V280.2M1953.2 276.8V280.2M1953.7 276.7V280.2M1954.2 276.8V280.2M1954.7 276.8V280.2M1955.2 276.8V280.2M1955.7 276.8V280.2M1956.2 276.8V280.2M1956.7 276.8V280.2M1957.2 276.8V280.2M1957.7 276.8V280.2M1958.2 276.8V280.2M1958.7 276.8V280.2M1959.2 276.8V280.2M1959.7 276.8V280.2M1960.2 276.8V280.2M1960.7 276.8V280.2M1961.2 276.8V280.2" stroke="#A2142F" stroke-width="1.1" fill="none"/><path d="M1677 280V278.5M1679.5 279.2V278.5M1682 278.3V278.5M1684.5 275V278.5M1687.1 269.4V278.5M1689.6 275.9V278.5M1692.2 271.9V278.5M1694.7 274.7V278.5M1697.3 273.6V278.5M1699.9 269.9V278.5M1924.7 274.7V278.5M1927.3 274.7V278.5M1929.8 272.4V278.5M1932.3 277.1V278.5M1934.8 277.2V278.5M1937.3 276V278.5M1939.8 275.2V278.5M1942.2 276.4V278.5M1944.7 276.3V278.5M1947.2 275.9V278.5M1949.7 276.2V278.5M1952.1 277.2V278.5M1954.7 277V278.5M1957.1 277.1V278.5M1959.6 278.1V278.5M1677 278.5V278.6M1679.4 278.5V279.9M1682 278.5V281.7M1684.5 278.5V282.2M1687 278.5V286.5M1689.4 278.5V285M1691.9 278.5V284.9M1694.4 278.5V283.9M1696.9 278.5V283.4M1699.4 278.5V284.2M1924.5 278.5V283.6M1926.9 278.5V284.2M1929.4 278.5V282.4M1932 278.5V282.7M1934.5 278.5V281.4M1937 278.5V282.4M1939.5 278.5V281.4M1942 278.5V280.6M1944.5 278.5V281.3M1947 278.5V281.1M1949.5 278.5V281.1M1952 278.5V279.8M1954.5 278.5V279.2M1957.1 278.5V278.3M1959.6 278.5V277.6" stroke="#A2142F" stroke-width="2.4" stroke-opacity="0.5" fill="none"/><path d="M1702.4 259V278.5" stroke="#A2142F" stroke-width="2.8" stroke-opacity="0.5" fill="none"/><path d="M1705.3 243.1V278.5M1708.4 235.7V278.5M1711.4 208.9V278.5M1714.6 202.7V278.5M1717.7 199.6V278.5M1720.9 181.8V278.5M1723.9 184.5V278.5M1727 182.5V278.5M1730 171.5V278.5M1733.1 162.7V278.5M1736.1 160.3V278.5M1739.2 156.8V278.5M1742.3 165.2V278.5M1745.3 158.5V278.5M1748.4 145V278.5M1751.6 160.8V278.5M1754.6 140.4V278.5M1757.7 146.3V278.5M1760.8 159.8V278.5M1764 170.4V278.5M1767.1 165.2V278.5M1770.3 170.3V278.5M1773.3 166.7V278.5M1776.5 174.8V278.5M1779.6 172.9V278.5M1782.8 174.1V278.5M1785.9 181.2V278.5M1788.9 199.3V278.5M1791.9 199.2V278.5M1795 196V278.5M1798.1 188.4V278.5M1704.6 278.5V320.1M1707.7 278.5V367.7M1710.7 278.5V370.8M1713.8 278.5V382M1716.9 278.5V361.7M1720 278.5V343.9M1723.2 278.5V345.2M1726.3 278.5V347.2M1729.5 278.5V366.5M1732.7 278.5V390.3M1735.7 278.5V406.2M1738.8 278.5V402.1M1741.9 278.5V412.3M1744.9 278.5V420.3M1747.9 278.5V439.8M1751 278.5V460.1M1754.2 278.5V466.8M1757.2 278.5V460.1M1760.4 278.5V443.2M1763.5 278.5V439.3M1766.6 278.5V424.4M1769.7 278.5V436.8M1772.8 278.5V443M1776 278.5V433.2M1779.1 278.5V438.4M1782.2 278.5V425.2M1785.3 278.5V398M1788.4 278.5V376.3M1791.5 278.5V379M1794.6 278.5V387M1797.7 278.5V384" stroke="#A2142F" stroke-width="3.0" stroke-opacity="0.5" fill="none"/><path d="M1801.1 204.3V278.5" stroke="#A2142F" stroke-width="3.5" stroke-opacity="0.5" fill="none"/><path d="M1804.6 223.5V278.5" stroke="#A2142F" stroke-width="4.0" stroke-opacity="0.5" fill="none"/><path d="M1701.9 278.5V288.1" stroke="#A2142F" stroke-width="2.7" stroke-opacity="0.5" fill="none"/><path d="M1800.8 278.5V379.3" stroke="#A2142F" stroke-width="3.4" stroke-opacity="0.5" fill="none"/><path d="M1804.4 278.5V377.6" stroke="#A2142F" stroke-width="3.9" stroke-opacity="0.5" fill="none"/><path d="M1677 279V278.5M1679.5 278.2V278.5M1682 277.3V278.5M1684.5 274V278.5M1687.1 268.4V278.5M1689.6 274.9V278.5M1692.2 270.9V278.5M1694.7 273.7V278.5M1697.3 272.6V278.5M1699.9 268.9V278.5M1924.7 273.7V278.5M1927.3 273.7V278.5M1929.8 271.4V278.5M1932.3 276.1V278.5M1934.8 276.2V278.5M1937.3 275V278.5M1939.8 274.2V278.5M1942.2 275.4V278.5M1944.7 275.3V278.5M1947.2 274.9V278.5M1949.7 275.2V278.5M1952.1 276.2V278.5M1954.7 276V278.5M1957.1 276.1V278.5M1959.6 277.1V278.5M1677 278.5V279.6M1679.4 278.5V280.9M1682 278.5V282.7M1684.5 278.5V283.2M1687 278.5V287.5M1689.4 278.5V286M1691.9 278.5V285.9M1694.4 278.5V284.9M1696.9 278.5V284.4M1699.4 278.5V285.2M1924.5 278.5V284.6M1926.9 278.5V285.2M1929.4 278.5V283.4M1932 278.5V283.7M1934.5 278.5V282.4M1937 278.5V283.4M1939.5 278.5V282.4M1942 278.5V281.6M1944.5 278.5V282.3M1947 278.5V282.1M1949.5 278.5V282.1M1952 278.5V280.8M1954.5 278.5V280.2M1957.1 278.5V279.3M1959.6 278.5V278.6" stroke="#A2142F" stroke-width="1.2" fill="none"/><path d="M1678.2 278.5V278.5M1680.8 277.8V278.5M1683.2 275.5V278.5M1685.8 271.1V278.5M1688.3 273.4V278.5M1690.9 273.7V278.5M1693.4 272.9V278.5M1696 273.9V278.5M1698.5 271.1V278.5M1701.1 264.5V278.5M1703.8 255.9V278.5M1706.9 248.6V278.5M1709.9 238V278.5M1713 221.2V278.5M1716.1 219.3V278.5M1719.3 207.3V278.5M1722.5 197V278.5M1725.5 194.4V278.5M1728.5 189.2V278.5M1731.6 175.3V278.5M1734.6 168.3V278.5M1737.6 162.9V278.5M1740.7 168.4V278.5M1743.9 165V278.5M1746.9 153.8V278.5M1749.9 145.4V278.5M1753.1 141.3V278.5M1756.2 146.7V278.5M1759.2 160V278.5M1762.4 168.5V278.5M1765.6 168.8V278.5M1768.7 169.3V278.5M1771.9 171.5V278.5M1774.9 169.7V278.5M1778 174.5V278.5M1781.2 175.7V278.5M1784.3 178.5V278.5M1787.4 187.4V278.5M1790.4 201.7V278.5M1793.5 202.1V278.5M1796.5 199V278.5M1799.6 212.3V278.5M1802.9 240.2V278.5M1806.6 245.7V278.5M1926 274.4V278.5M1928.5 273.4V278.5M1931 274.8V278.5M1933.5 276.6V278.5M1936.1 275.8V278.5M1938.5 275.4V278.5M1941 275.4V278.5M1943.4 275.3V278.5M1946 275.8V278.5M1948.4 275.8V278.5M1950.9 276.1V278.5M1953.3 276.1V278.5M1955.9 276.7V278.5M1958.4 276.8V278.5M1960.9 277.4V278.5M1678.2 278.5V280.2M1680.7 278.5V281.7M1683.2 278.5V283.1M1685.7 278.5V284.4M1688.2 278.5V286.2M1690.7 278.5V285.4M1693.1 278.5V284.3M1695.6 278.5V283.9M1698.2 278.5V284.4M1700.7 278.5V286.6M1703.3 278.5V301.6M1706.2 278.5V310.1M1709.3 278.5V323M1712.3 278.5V336.5M1715.4 278.5V331.3M1718.4 278.5V314.9M1721.6 278.5V312M1724.7 278.5V311.4M1727.9 278.5V318.3M1731 278.5V326M1734.2 278.5V338.3M1737.3 278.5V354.2M1740.3 278.5V352M1743.4 278.5V357.1M1746.5 278.5V373.2M1749.5 278.5V397.3M1752.6 278.5V408M1755.7 278.5V401.2M1758.8 278.5V387.7M1761.9 278.5V390.6M1765.1 278.5V378.7M1768.1 278.5V372.2M1771.2 278.5V370.4M1774.4 278.5V384.1M1777.5 278.5V362.2M1780.6 278.5V365.2M1783.7 278.5V351.5M1786.8 278.5V343.1M1789.9 278.5V335.9M1793 278.5V332.5M1796.2 278.5V338.8M1799.3 278.5V327.7M1802.5 278.5V319.1M1806.4 278.5V310.4M1925.7 278.5V283.9M1928.2 278.5V283.7M1930.7 278.5V283.4M1933.2 278.5V283.1M1935.7 278.5V282.1M1938.2 278.5V282.2M1940.8 278.5V282M1943.2 278.5V281.6M1945.8 278.5V281.7M1948.3 278.5V281.5M1950.8 278.5V280.8M1953.3 278.5V280.3M1955.8 278.5V279.6M1958.3 278.5V278.9M1960.9 278.5V278.3" stroke="#A2142F" stroke-width="1.0" fill="none"/><path d="M1702.4 258V278.5" stroke="#A2142F" stroke-width="1.6" fill="none"/><path d="M1705.3 242.1V278.5M1708.4 234.7V278.5M1711.4 207.9V278.5M1714.6 201.7V278.5M1717.7 198.6V278.5M1720.9 180.8V278.5M1723.9 183.5V278.5M1727 181.5V278.5M1730 170.5V278.5M1733.1 161.7V278.5M1736.1 159.3V278.5M1739.2 155.8V278.5M1742.3 164.2V278.5M1745.3 157.5V278.5M1748.4 144V278.5M1751.6 159.8V278.5M1754.6 139.4V278.5M1757.7 145.3V278.5M1760.8 158.8V278.5M1764 169.4V278.5M1767.1 164.2V278.5M1770.3 169.3V278.5M1773.3 165.7V278.5M1776.5 173.8V278.5M1779.6 171.9V278.5M1782.8 173.1V278.5M1785.9 180.2V278.5M1788.9 198.3V278.5M1791.9 198.2V278.5M1795 195V278.5M1798.1 187.4V278.5M1704.6 278.5V321.1M1707.7 278.5V368.7M1710.7 278.5V371.8M1713.8 278.5V383M1716.9 278.5V362.7M1720 278.5V344.9M1723.2 278.5V346.2M1726.3 278.5V348.2M1729.5 278.5V367.5M1732.7 278.5V391.3M1735.7 278.5V407.2M1738.8 278.5V403.1M1741.9 278.5V413.3M1744.9 278.5V421.3M1747.9 278.5V440.8M1751 278.5V461.1M1754.2 278.5V467.8M1757.2 278.5V461.1M1760.4 278.5V444.2M1763.5 278.5V440.3M1766.6 278.5V425.4M1769.7 278.5V437.8M1772.8 278.5V444M1776 278.5V434.2M1779.1 278.5V439.4M1782.2 278.5V426.2M1785.3 278.5V399M1788.4 278.5V377.3M1791.5 278.5V380M1794.6 278.5V388M1797.7 278.5V385" stroke="#A2142F" stroke-width="1.7" fill="none"/><path d="M1801.1 203.3V278.5" stroke="#A2142F" stroke-width="2.1" fill="none"/><path d="M1804.6 222.5V278.5M1804.4 278.5V378.6" stroke="#A2142F" stroke-width="2.5" fill="none"/><path d="M1701.9 278.5V289.1" stroke="#A2142F" stroke-width="1.4" fill="none"/><path d="M1800.8 278.5V380.3" stroke="#A2142F" stroke-width="2.0" fill="none"/>
<polyline points="1806.5,201.1 1808.6,366.5 1810.8,214.3 1812.9,365.6 1815,227.9 1817.1,364.9 1819.2,233.3 1821.4,368.1 1823.5,224.3 1825.6,372.9 1827.8,232.1 1829.9,366.5 1832,224.3 1834.1,363.3 1836.2,235.7 1838.4,365.8 1840.5,227.7 1842.6,352.1 1844.8,231.3 1846.9,348.9 1849,238.2 1851.1,353.1 1853.2,242.5 1855.4,336.1 1857.5,240.6 1859.6,331.3 1861.8,239.4 1863.9,332.9 1866,251.6 1868.1,327.2 1870.2,248.4 1872.4,316.9 1874.5,251.1 1876.6,315.3 1878.8,250.3 1880.9,316.9 1883,254.7 1885.1,308.9 1887.2,254.7 1889.4,302.6 1891.5,250.3 1893.6,313.7 1895.8,243 1897.9,319.5 1900,241.3 1902.1,316.9 1904.2,246.7 1906.4,309.9 1908.5,262.5 1910.6,299.4 1912.8,260.8 1914.9,297.8 1917,257.2 1919.1,297.1 1921.2,263.7 1923.4,285.7" stroke="#A2142F" stroke-width="2.4" fill="none" stroke-linejoin="round"/>
</g>
<g id="labels">
<text x="325" y="610.7" text-anchor="middle" class="tk">0</text>
<text x="712.6" y="610.7" text-anchor="middle" class="tk">0.5</text>
<text x="1100.2" y="610.7" text-anchor="middle" class="tk">1</text>
<text x="1487.8" y="610.7" text-anchor="middle" class="tk">1.5</text>
<text x="1875.4" y="610.7" text-anchor="middle" class="tk">2</text>
<text x="2263" y="610.7" text-anchor="middle" class="tk">2.5</text>
<text x="316.5" y="56.3" text-anchor="end" class="tk">0.6</text>
<text x="316.5" y="132.9" text-anchor="end" class="tk">0.4</text>
<text x="316.5" y="209.5" text-anchor="end" class="tk">0.2</text>
<text x="316.5" y="286.1" text-anchor="end" class="tk">0</text>
<text x="316.5" y="362.6" text-anchor="end" class="tk">-0.2</text>
<text x="316.5" y="439.2" text-anchor="end" class="tk">-0.4</text>
<text x="316.5" y="515.8" text-anchor="end" class="tk">-0.6</text>
<text x="316.5" y="592.4" text-anchor="end" class="tk">-0.8</text>
<text x="1294" y="40.1" text-anchor="middle" class="ti">Sentence JOH-001-048 (Colored by Word)</text>
<text x="1294.2" y="638.4" text-anchor="middle" class="lb">Time (s)</text>
<text transform="translate(269,316.8) rotate(-90)" text-anchor="middle" class="lb">Amplitude</text>
</g>
</svg>
</body></html>
